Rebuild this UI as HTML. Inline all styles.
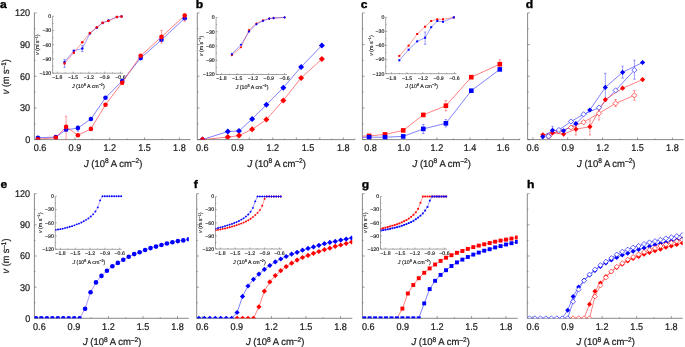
<!DOCTYPE html>
<html><head><meta charset="utf-8"><style>html,body{margin:0;padding:0;background:#fff;overflow:hidden;width:685px;height:347px;}svg{display:block;will-change:transform;}</style></head><body>
<svg width="685" height="347" viewBox="0 0 685 347" font-family="Liberation Sans" fill="#1a1a1a" text-rendering="geometricPrecision">
<rect width="685" height="347" fill="#fff"/>
<line x1="34.4" y1="139.6" x2="190.6" y2="139.6" stroke="#7c7c7c" stroke-width="0.9" />
<line x1="34.4" y1="139.6" x2="34.4" y2="12.9" stroke="#7c7c7c" stroke-width="0.9" />
<line x1="40.08" y1="139.6" x2="40.08" y2="137.3" stroke="#444" stroke-width="0.5" />
<line x1="57.5" y1="139.6" x2="57.5" y2="138.5" stroke="#444" stroke-width="0.5" />
<line x1="74.91" y1="139.6" x2="74.91" y2="137.3" stroke="#444" stroke-width="0.5" />
<line x1="92.33" y1="139.6" x2="92.33" y2="138.5" stroke="#444" stroke-width="0.5" />
<line x1="109.74" y1="139.6" x2="109.74" y2="137.3" stroke="#444" stroke-width="0.5" />
<line x1="127.16" y1="139.6" x2="127.16" y2="138.5" stroke="#444" stroke-width="0.5" />
<line x1="144.57" y1="139.6" x2="144.57" y2="137.3" stroke="#444" stroke-width="0.5" />
<line x1="161.98" y1="139.6" x2="161.98" y2="138.5" stroke="#444" stroke-width="0.5" />
<line x1="179.4" y1="139.6" x2="179.4" y2="137.3" stroke="#444" stroke-width="0.5" />
<line x1="34.4" y1="139.6" x2="36.7" y2="139.6" stroke="#444" stroke-width="0.5" />
<line x1="34.4" y1="123.76" x2="35.5" y2="123.76" stroke="#444" stroke-width="0.5" />
<line x1="34.4" y1="107.92" x2="36.7" y2="107.92" stroke="#444" stroke-width="0.5" />
<line x1="34.4" y1="92.09" x2="35.5" y2="92.09" stroke="#444" stroke-width="0.5" />
<line x1="34.4" y1="76.25" x2="36.7" y2="76.25" stroke="#444" stroke-width="0.5" />
<line x1="34.4" y1="60.41" x2="35.5" y2="60.41" stroke="#444" stroke-width="0.5" />
<line x1="34.4" y1="44.58" x2="36.7" y2="44.58" stroke="#444" stroke-width="0.5" />
<line x1="34.4" y1="28.74" x2="35.5" y2="28.74" stroke="#444" stroke-width="0.5" />
<line x1="34.4" y1="12.9" x2="36.7" y2="12.9" stroke="#444" stroke-width="0.5" />
<text transform="translate(40.08,150.9) scale(0.93,1)" font-size="9.8" text-anchor="middle" stroke="#1a1a1a" stroke-width="0.22">0.6</text>
<text transform="translate(74.91,150.9) scale(0.93,1)" font-size="9.8" text-anchor="middle" stroke="#1a1a1a" stroke-width="0.22">0.9</text>
<text transform="translate(109.74,150.9) scale(0.93,1)" font-size="9.8" text-anchor="middle" stroke="#1a1a1a" stroke-width="0.22">1.2</text>
<text transform="translate(144.57,150.9) scale(0.93,1)" font-size="9.8" text-anchor="middle" stroke="#1a1a1a" stroke-width="0.22">1.5</text>
<text transform="translate(179.4,150.9) scale(0.93,1)" font-size="9.8" text-anchor="middle" stroke="#1a1a1a" stroke-width="0.22">1.8</text>
<text transform="translate(30.2,143) scale(0.93,1)" font-size="9.8" text-anchor="end" stroke="#1a1a1a" stroke-width="0.22">0</text>
<text transform="translate(30.2,111.33) scale(0.93,1)" font-size="9.8" text-anchor="end" stroke="#1a1a1a" stroke-width="0.22">30</text>
<text transform="translate(30.2,79.65) scale(0.93,1)" font-size="9.8" text-anchor="end" stroke="#1a1a1a" stroke-width="0.22">60</text>
<text transform="translate(30.2,47.98) scale(0.93,1)" font-size="9.8" text-anchor="end" stroke="#1a1a1a" stroke-width="0.22">90</text>
<text transform="translate(30.2,16.3) scale(0.93,1)" font-size="9.8" text-anchor="end" stroke="#1a1a1a" stroke-width="0.22">120</text>
<line x1="197.3" y1="139.6" x2="354.8" y2="139.6" stroke="#7c7c7c" stroke-width="0.9" />
<line x1="197.3" y1="139.6" x2="197.3" y2="12.9" stroke="#7c7c7c" stroke-width="0.9" />
<line x1="202.3" y1="139.6" x2="202.3" y2="137.3" stroke="#444" stroke-width="0.5" />
<line x1="214.05" y1="139.6" x2="214.05" y2="138.5" stroke="#444" stroke-width="0.5" />
<line x1="225.8" y1="139.6" x2="225.8" y2="137.3" stroke="#444" stroke-width="0.5" />
<line x1="237.55" y1="139.6" x2="237.55" y2="138.5" stroke="#444" stroke-width="0.5" />
<line x1="249.3" y1="139.6" x2="249.3" y2="137.3" stroke="#444" stroke-width="0.5" />
<line x1="261.05" y1="139.6" x2="261.05" y2="138.5" stroke="#444" stroke-width="0.5" />
<line x1="272.8" y1="139.6" x2="272.8" y2="137.3" stroke="#444" stroke-width="0.5" />
<line x1="284.55" y1="139.6" x2="284.55" y2="138.5" stroke="#444" stroke-width="0.5" />
<line x1="296.3" y1="139.6" x2="296.3" y2="137.3" stroke="#444" stroke-width="0.5" />
<line x1="308.05" y1="139.6" x2="308.05" y2="138.5" stroke="#444" stroke-width="0.5" />
<line x1="319.8" y1="139.6" x2="319.8" y2="137.3" stroke="#444" stroke-width="0.5" />
<line x1="331.55" y1="139.6" x2="331.55" y2="138.5" stroke="#444" stroke-width="0.5" />
<line x1="343.3" y1="139.6" x2="343.3" y2="137.3" stroke="#444" stroke-width="0.5" />
<line x1="355.05" y1="139.6" x2="355.05" y2="138.5" stroke="#444" stroke-width="0.5" />
<line x1="197.3" y1="139.6" x2="199.6" y2="139.6" stroke="#444" stroke-width="0.5" />
<line x1="197.3" y1="123.76" x2="198.4" y2="123.76" stroke="#444" stroke-width="0.5" />
<line x1="197.3" y1="107.92" x2="199.6" y2="107.92" stroke="#444" stroke-width="0.5" />
<line x1="197.3" y1="92.09" x2="198.4" y2="92.09" stroke="#444" stroke-width="0.5" />
<line x1="197.3" y1="76.25" x2="199.6" y2="76.25" stroke="#444" stroke-width="0.5" />
<line x1="197.3" y1="60.41" x2="198.4" y2="60.41" stroke="#444" stroke-width="0.5" />
<line x1="197.3" y1="44.58" x2="199.6" y2="44.58" stroke="#444" stroke-width="0.5" />
<line x1="197.3" y1="28.74" x2="198.4" y2="28.74" stroke="#444" stroke-width="0.5" />
<line x1="197.3" y1="12.9" x2="199.6" y2="12.9" stroke="#444" stroke-width="0.5" />
<text transform="translate(202.3,150.9) scale(0.93,1)" font-size="9.8" text-anchor="middle" stroke="#1a1a1a" stroke-width="0.22">0.6</text>
<text transform="translate(237.55,150.9) scale(0.93,1)" font-size="9.8" text-anchor="middle" stroke="#1a1a1a" stroke-width="0.22">0.9</text>
<text transform="translate(272.8,150.9) scale(0.93,1)" font-size="9.8" text-anchor="middle" stroke="#1a1a1a" stroke-width="0.22">1.2</text>
<text transform="translate(308.05,150.9) scale(0.93,1)" font-size="9.8" text-anchor="middle" stroke="#1a1a1a" stroke-width="0.22">1.5</text>
<text transform="translate(343.3,150.9) scale(0.93,1)" font-size="9.8" text-anchor="middle" stroke="#1a1a1a" stroke-width="0.22">1.8</text>
<line x1="362.4" y1="139.6" x2="519.9" y2="139.6" stroke="#7c7c7c" stroke-width="0.9" />
<line x1="362.4" y1="139.6" x2="362.4" y2="12.9" stroke="#7c7c7c" stroke-width="0.9" />
<line x1="370.56" y1="139.6" x2="370.56" y2="137.3" stroke="#444" stroke-width="0.5" />
<line x1="387.14" y1="139.6" x2="387.14" y2="138.5" stroke="#444" stroke-width="0.5" />
<line x1="403.72" y1="139.6" x2="403.72" y2="137.3" stroke="#444" stroke-width="0.5" />
<line x1="420.3" y1="139.6" x2="420.3" y2="138.5" stroke="#444" stroke-width="0.5" />
<line x1="436.88" y1="139.6" x2="436.88" y2="137.3" stroke="#444" stroke-width="0.5" />
<line x1="453.46" y1="139.6" x2="453.46" y2="138.5" stroke="#444" stroke-width="0.5" />
<line x1="470.04" y1="139.6" x2="470.04" y2="137.3" stroke="#444" stroke-width="0.5" />
<line x1="486.62" y1="139.6" x2="486.62" y2="138.5" stroke="#444" stroke-width="0.5" />
<line x1="503.2" y1="139.6" x2="503.2" y2="137.3" stroke="#444" stroke-width="0.5" />
<line x1="519.78" y1="139.6" x2="519.78" y2="138.5" stroke="#444" stroke-width="0.5" />
<line x1="362.4" y1="139.6" x2="364.7" y2="139.6" stroke="#444" stroke-width="0.5" />
<line x1="362.4" y1="123.76" x2="363.5" y2="123.76" stroke="#444" stroke-width="0.5" />
<line x1="362.4" y1="107.92" x2="364.7" y2="107.92" stroke="#444" stroke-width="0.5" />
<line x1="362.4" y1="92.09" x2="363.5" y2="92.09" stroke="#444" stroke-width="0.5" />
<line x1="362.4" y1="76.25" x2="364.7" y2="76.25" stroke="#444" stroke-width="0.5" />
<line x1="362.4" y1="60.41" x2="363.5" y2="60.41" stroke="#444" stroke-width="0.5" />
<line x1="362.4" y1="44.58" x2="364.7" y2="44.58" stroke="#444" stroke-width="0.5" />
<line x1="362.4" y1="28.74" x2="363.5" y2="28.74" stroke="#444" stroke-width="0.5" />
<line x1="362.4" y1="12.9" x2="364.7" y2="12.9" stroke="#444" stroke-width="0.5" />
<text transform="translate(370.56,150.9) scale(0.93,1)" font-size="9.8" text-anchor="middle" stroke="#1a1a1a" stroke-width="0.22">0.8</text>
<text transform="translate(403.72,150.9) scale(0.93,1)" font-size="9.8" text-anchor="middle" stroke="#1a1a1a" stroke-width="0.22">1.0</text>
<text transform="translate(436.88,150.9) scale(0.93,1)" font-size="9.8" text-anchor="middle" stroke="#1a1a1a" stroke-width="0.22">1.2</text>
<text transform="translate(470.04,150.9) scale(0.93,1)" font-size="9.8" text-anchor="middle" stroke="#1a1a1a" stroke-width="0.22">1.4</text>
<text transform="translate(503.2,150.9) scale(0.93,1)" font-size="9.8" text-anchor="middle" stroke="#1a1a1a" stroke-width="0.22">1.6</text>
<line x1="527.6" y1="139.6" x2="683.8" y2="139.6" stroke="#7c7c7c" stroke-width="0.9" />
<line x1="527.6" y1="139.6" x2="527.6" y2="12.9" stroke="#7c7c7c" stroke-width="0.9" />
<line x1="532.84" y1="139.6" x2="532.84" y2="137.3" stroke="#444" stroke-width="0.5" />
<line x1="550.28" y1="139.6" x2="550.28" y2="138.5" stroke="#444" stroke-width="0.5" />
<line x1="567.73" y1="139.6" x2="567.73" y2="137.3" stroke="#444" stroke-width="0.5" />
<line x1="585.17" y1="139.6" x2="585.17" y2="138.5" stroke="#444" stroke-width="0.5" />
<line x1="602.62" y1="139.6" x2="602.62" y2="137.3" stroke="#444" stroke-width="0.5" />
<line x1="620.07" y1="139.6" x2="620.07" y2="138.5" stroke="#444" stroke-width="0.5" />
<line x1="637.51" y1="139.6" x2="637.51" y2="137.3" stroke="#444" stroke-width="0.5" />
<line x1="654.95" y1="139.6" x2="654.95" y2="138.5" stroke="#444" stroke-width="0.5" />
<line x1="672.4" y1="139.6" x2="672.4" y2="137.3" stroke="#444" stroke-width="0.5" />
<line x1="527.6" y1="139.6" x2="529.9" y2="139.6" stroke="#444" stroke-width="0.5" />
<line x1="527.6" y1="123.76" x2="528.7" y2="123.76" stroke="#444" stroke-width="0.5" />
<line x1="527.6" y1="107.92" x2="529.9" y2="107.92" stroke="#444" stroke-width="0.5" />
<line x1="527.6" y1="92.09" x2="528.7" y2="92.09" stroke="#444" stroke-width="0.5" />
<line x1="527.6" y1="76.25" x2="529.9" y2="76.25" stroke="#444" stroke-width="0.5" />
<line x1="527.6" y1="60.41" x2="528.7" y2="60.41" stroke="#444" stroke-width="0.5" />
<line x1="527.6" y1="44.58" x2="529.9" y2="44.58" stroke="#444" stroke-width="0.5" />
<line x1="527.6" y1="28.74" x2="528.7" y2="28.74" stroke="#444" stroke-width="0.5" />
<line x1="527.6" y1="12.9" x2="529.9" y2="12.9" stroke="#444" stroke-width="0.5" />
<text transform="translate(532.84,150.9) scale(0.93,1)" font-size="9.8" text-anchor="middle" stroke="#1a1a1a" stroke-width="0.22">0.6</text>
<text transform="translate(567.73,150.9) scale(0.93,1)" font-size="9.8" text-anchor="middle" stroke="#1a1a1a" stroke-width="0.22">0.9</text>
<text transform="translate(602.62,150.9) scale(0.93,1)" font-size="9.8" text-anchor="middle" stroke="#1a1a1a" stroke-width="0.22">1.2</text>
<text transform="translate(637.51,150.9) scale(0.93,1)" font-size="9.8" text-anchor="middle" stroke="#1a1a1a" stroke-width="0.22">1.5</text>
<text transform="translate(672.4,150.9) scale(0.93,1)" font-size="9.8" text-anchor="middle" stroke="#1a1a1a" stroke-width="0.22">1.8</text>
<line x1="34.4" y1="318.3" x2="188.8" y2="318.3" stroke="#7c7c7c" stroke-width="0.9" />
<line x1="34.4" y1="318.3" x2="34.4" y2="193.7" stroke="#7c7c7c" stroke-width="0.9" />
<line x1="39.38" y1="318.3" x2="39.38" y2="316" stroke="#444" stroke-width="0.5" />
<line x1="56.65" y1="318.3" x2="56.65" y2="317.2" stroke="#444" stroke-width="0.5" />
<line x1="73.91" y1="318.3" x2="73.91" y2="316" stroke="#444" stroke-width="0.5" />
<line x1="91.18" y1="318.3" x2="91.18" y2="317.2" stroke="#444" stroke-width="0.5" />
<line x1="108.44" y1="318.3" x2="108.44" y2="316" stroke="#444" stroke-width="0.5" />
<line x1="125.71" y1="318.3" x2="125.71" y2="317.2" stroke="#444" stroke-width="0.5" />
<line x1="142.97" y1="318.3" x2="142.97" y2="316" stroke="#444" stroke-width="0.5" />
<line x1="160.23" y1="318.3" x2="160.23" y2="317.2" stroke="#444" stroke-width="0.5" />
<line x1="177.5" y1="318.3" x2="177.5" y2="316" stroke="#444" stroke-width="0.5" />
<line x1="34.4" y1="318.3" x2="36.7" y2="318.3" stroke="#444" stroke-width="0.5" />
<line x1="34.4" y1="302.73" x2="35.5" y2="302.73" stroke="#444" stroke-width="0.5" />
<line x1="34.4" y1="287.15" x2="36.7" y2="287.15" stroke="#444" stroke-width="0.5" />
<line x1="34.4" y1="271.57" x2="35.5" y2="271.57" stroke="#444" stroke-width="0.5" />
<line x1="34.4" y1="256" x2="36.7" y2="256" stroke="#444" stroke-width="0.5" />
<line x1="34.4" y1="240.43" x2="35.5" y2="240.43" stroke="#444" stroke-width="0.5" />
<line x1="34.4" y1="224.85" x2="36.7" y2="224.85" stroke="#444" stroke-width="0.5" />
<line x1="34.4" y1="209.27" x2="35.5" y2="209.27" stroke="#444" stroke-width="0.5" />
<line x1="34.4" y1="193.7" x2="36.7" y2="193.7" stroke="#444" stroke-width="0.5" />
<text transform="translate(39.38,329.6) scale(0.93,1)" font-size="9.8" text-anchor="middle" stroke="#1a1a1a" stroke-width="0.22">0.6</text>
<text transform="translate(73.91,329.6) scale(0.93,1)" font-size="9.8" text-anchor="middle" stroke="#1a1a1a" stroke-width="0.22">0.9</text>
<text transform="translate(108.44,329.6) scale(0.93,1)" font-size="9.8" text-anchor="middle" stroke="#1a1a1a" stroke-width="0.22">1.2</text>
<text transform="translate(142.97,329.6) scale(0.93,1)" font-size="9.8" text-anchor="middle" stroke="#1a1a1a" stroke-width="0.22">1.5</text>
<text transform="translate(177.5,329.6) scale(0.93,1)" font-size="9.8" text-anchor="middle" stroke="#1a1a1a" stroke-width="0.22">1.8</text>
<text transform="translate(30.2,321.7) scale(0.93,1)" font-size="9.8" text-anchor="end" stroke="#1a1a1a" stroke-width="0.22">0</text>
<text transform="translate(30.2,290.55) scale(0.93,1)" font-size="9.8" text-anchor="end" stroke="#1a1a1a" stroke-width="0.22">30</text>
<text transform="translate(30.2,259.4) scale(0.93,1)" font-size="9.8" text-anchor="end" stroke="#1a1a1a" stroke-width="0.22">60</text>
<text transform="translate(30.2,228.25) scale(0.93,1)" font-size="9.8" text-anchor="end" stroke="#1a1a1a" stroke-width="0.22">90</text>
<text transform="translate(30.2,197.1) scale(0.93,1)" font-size="9.8" text-anchor="end" stroke="#1a1a1a" stroke-width="0.22">120</text>
<line x1="196.7" y1="318.3" x2="352.3" y2="318.3" stroke="#7c7c7c" stroke-width="0.9" />
<line x1="196.7" y1="318.3" x2="196.7" y2="193.7" stroke="#7c7c7c" stroke-width="0.9" />
<line x1="202.24" y1="318.3" x2="202.24" y2="316" stroke="#444" stroke-width="0.5" />
<line x1="219.54" y1="318.3" x2="219.54" y2="317.2" stroke="#444" stroke-width="0.5" />
<line x1="236.83" y1="318.3" x2="236.83" y2="316" stroke="#444" stroke-width="0.5" />
<line x1="254.12" y1="318.3" x2="254.12" y2="317.2" stroke="#444" stroke-width="0.5" />
<line x1="271.42" y1="318.3" x2="271.42" y2="316" stroke="#444" stroke-width="0.5" />
<line x1="288.72" y1="318.3" x2="288.72" y2="317.2" stroke="#444" stroke-width="0.5" />
<line x1="306.01" y1="318.3" x2="306.01" y2="316" stroke="#444" stroke-width="0.5" />
<line x1="323.31" y1="318.3" x2="323.31" y2="317.2" stroke="#444" stroke-width="0.5" />
<line x1="340.6" y1="318.3" x2="340.6" y2="316" stroke="#444" stroke-width="0.5" />
<line x1="196.7" y1="318.3" x2="199" y2="318.3" stroke="#444" stroke-width="0.5" />
<line x1="196.7" y1="302.73" x2="197.8" y2="302.73" stroke="#444" stroke-width="0.5" />
<line x1="196.7" y1="287.15" x2="199" y2="287.15" stroke="#444" stroke-width="0.5" />
<line x1="196.7" y1="271.57" x2="197.8" y2="271.57" stroke="#444" stroke-width="0.5" />
<line x1="196.7" y1="256" x2="199" y2="256" stroke="#444" stroke-width="0.5" />
<line x1="196.7" y1="240.43" x2="197.8" y2="240.43" stroke="#444" stroke-width="0.5" />
<line x1="196.7" y1="224.85" x2="199" y2="224.85" stroke="#444" stroke-width="0.5" />
<line x1="196.7" y1="209.27" x2="197.8" y2="209.27" stroke="#444" stroke-width="0.5" />
<line x1="196.7" y1="193.7" x2="199" y2="193.7" stroke="#444" stroke-width="0.5" />
<text transform="translate(202.24,329.6) scale(0.93,1)" font-size="9.8" text-anchor="middle" stroke="#1a1a1a" stroke-width="0.22">0.6</text>
<text transform="translate(236.83,329.6) scale(0.93,1)" font-size="9.8" text-anchor="middle" stroke="#1a1a1a" stroke-width="0.22">0.9</text>
<text transform="translate(271.42,329.6) scale(0.93,1)" font-size="9.8" text-anchor="middle" stroke="#1a1a1a" stroke-width="0.22">1.2</text>
<text transform="translate(306.01,329.6) scale(0.93,1)" font-size="9.8" text-anchor="middle" stroke="#1a1a1a" stroke-width="0.22">1.5</text>
<text transform="translate(340.6,329.6) scale(0.93,1)" font-size="9.8" text-anchor="middle" stroke="#1a1a1a" stroke-width="0.22">1.8</text>
<line x1="362.4" y1="318.3" x2="517.7" y2="318.3" stroke="#7c7c7c" stroke-width="0.9" />
<line x1="362.4" y1="318.3" x2="362.4" y2="193.7" stroke="#7c7c7c" stroke-width="0.9" />
<line x1="368.36" y1="318.3" x2="368.36" y2="316" stroke="#444" stroke-width="0.5" />
<line x1="385.56" y1="318.3" x2="385.56" y2="317.2" stroke="#444" stroke-width="0.5" />
<line x1="402.77" y1="318.3" x2="402.77" y2="316" stroke="#444" stroke-width="0.5" />
<line x1="419.98" y1="318.3" x2="419.98" y2="317.2" stroke="#444" stroke-width="0.5" />
<line x1="437.18" y1="318.3" x2="437.18" y2="316" stroke="#444" stroke-width="0.5" />
<line x1="454.38" y1="318.3" x2="454.38" y2="317.2" stroke="#444" stroke-width="0.5" />
<line x1="471.59" y1="318.3" x2="471.59" y2="316" stroke="#444" stroke-width="0.5" />
<line x1="488.79" y1="318.3" x2="488.79" y2="317.2" stroke="#444" stroke-width="0.5" />
<line x1="506" y1="318.3" x2="506" y2="316" stroke="#444" stroke-width="0.5" />
<line x1="362.4" y1="318.3" x2="364.7" y2="318.3" stroke="#444" stroke-width="0.5" />
<line x1="362.4" y1="302.73" x2="363.5" y2="302.73" stroke="#444" stroke-width="0.5" />
<line x1="362.4" y1="287.15" x2="364.7" y2="287.15" stroke="#444" stroke-width="0.5" />
<line x1="362.4" y1="271.57" x2="363.5" y2="271.57" stroke="#444" stroke-width="0.5" />
<line x1="362.4" y1="256" x2="364.7" y2="256" stroke="#444" stroke-width="0.5" />
<line x1="362.4" y1="240.43" x2="363.5" y2="240.43" stroke="#444" stroke-width="0.5" />
<line x1="362.4" y1="224.85" x2="364.7" y2="224.85" stroke="#444" stroke-width="0.5" />
<line x1="362.4" y1="209.27" x2="363.5" y2="209.27" stroke="#444" stroke-width="0.5" />
<line x1="362.4" y1="193.7" x2="364.7" y2="193.7" stroke="#444" stroke-width="0.5" />
<text transform="translate(368.36,329.6) scale(0.93,1)" font-size="9.8" text-anchor="middle" stroke="#1a1a1a" stroke-width="0.22">0.6</text>
<text transform="translate(402.77,329.6) scale(0.93,1)" font-size="9.8" text-anchor="middle" stroke="#1a1a1a" stroke-width="0.22">0.9</text>
<text transform="translate(437.18,329.6) scale(0.93,1)" font-size="9.8" text-anchor="middle" stroke="#1a1a1a" stroke-width="0.22">1.2</text>
<text transform="translate(471.59,329.6) scale(0.93,1)" font-size="9.8" text-anchor="middle" stroke="#1a1a1a" stroke-width="0.22">1.5</text>
<text transform="translate(506,329.6) scale(0.93,1)" font-size="9.8" text-anchor="middle" stroke="#1a1a1a" stroke-width="0.22">1.8</text>
<line x1="527.3" y1="318.3" x2="682.7" y2="318.3" stroke="#7c7c7c" stroke-width="0.9" />
<line x1="527.3" y1="318.3" x2="527.3" y2="193.7" stroke="#7c7c7c" stroke-width="0.9" />
<line x1="532.94" y1="318.3" x2="532.94" y2="316" stroke="#444" stroke-width="0.5" />
<line x1="550.24" y1="318.3" x2="550.24" y2="317.2" stroke="#444" stroke-width="0.5" />
<line x1="567.53" y1="318.3" x2="567.53" y2="316" stroke="#444" stroke-width="0.5" />
<line x1="584.82" y1="318.3" x2="584.82" y2="317.2" stroke="#444" stroke-width="0.5" />
<line x1="602.12" y1="318.3" x2="602.12" y2="316" stroke="#444" stroke-width="0.5" />
<line x1="619.41" y1="318.3" x2="619.41" y2="317.2" stroke="#444" stroke-width="0.5" />
<line x1="636.71" y1="318.3" x2="636.71" y2="316" stroke="#444" stroke-width="0.5" />
<line x1="654" y1="318.3" x2="654" y2="317.2" stroke="#444" stroke-width="0.5" />
<line x1="671.3" y1="318.3" x2="671.3" y2="316" stroke="#444" stroke-width="0.5" />
<line x1="527.3" y1="318.3" x2="529.6" y2="318.3" stroke="#444" stroke-width="0.5" />
<line x1="527.3" y1="302.73" x2="528.4" y2="302.73" stroke="#444" stroke-width="0.5" />
<line x1="527.3" y1="287.15" x2="529.6" y2="287.15" stroke="#444" stroke-width="0.5" />
<line x1="527.3" y1="271.57" x2="528.4" y2="271.57" stroke="#444" stroke-width="0.5" />
<line x1="527.3" y1="256" x2="529.6" y2="256" stroke="#444" stroke-width="0.5" />
<line x1="527.3" y1="240.43" x2="528.4" y2="240.43" stroke="#444" stroke-width="0.5" />
<line x1="527.3" y1="224.85" x2="529.6" y2="224.85" stroke="#444" stroke-width="0.5" />
<line x1="527.3" y1="209.27" x2="528.4" y2="209.27" stroke="#444" stroke-width="0.5" />
<line x1="527.3" y1="193.7" x2="529.6" y2="193.7" stroke="#444" stroke-width="0.5" />
<text transform="translate(532.94,329.6) scale(0.93,1)" font-size="9.8" text-anchor="middle" stroke="#1a1a1a" stroke-width="0.22">0.6</text>
<text transform="translate(567.53,329.6) scale(0.93,1)" font-size="9.8" text-anchor="middle" stroke="#1a1a1a" stroke-width="0.22">0.9</text>
<text transform="translate(602.12,329.6) scale(0.93,1)" font-size="9.8" text-anchor="middle" stroke="#1a1a1a" stroke-width="0.22">1.2</text>
<text transform="translate(636.71,329.6) scale(0.93,1)" font-size="9.8" text-anchor="middle" stroke="#1a1a1a" stroke-width="0.22">1.5</text>
<text transform="translate(671.3,329.6) scale(0.93,1)" font-size="9.8" text-anchor="middle" stroke="#1a1a1a" stroke-width="0.22">1.8</text>
<text transform="translate(0,7.8) scale(1.1,1)" font-size="11" text-anchor="start" font-weight="bold" fill="#000" stroke="#000" stroke-width="0.35">a</text>
<text transform="translate(195.7,7.8) scale(1.1,1)" font-size="11" text-anchor="start" font-weight="bold" fill="#000" stroke="#000" stroke-width="0.35">b</text>
<text transform="translate(360.7,7.8) scale(1.1,1)" font-size="11" text-anchor="start" font-weight="bold" fill="#000" stroke="#000" stroke-width="0.35">c</text>
<text transform="translate(525.7,7.8) scale(1.1,1)" font-size="11" text-anchor="start" font-weight="bold" fill="#000" stroke="#000" stroke-width="0.35">d</text>
<text transform="translate(0.4,187.9) scale(1.1,1)" font-size="11" text-anchor="start" font-weight="bold" fill="#000" stroke="#000" stroke-width="0.35">e</text>
<text transform="translate(193.8,187.9) scale(1.1,1)" font-size="11" text-anchor="start" font-weight="bold" fill="#000" stroke="#000" stroke-width="0.35">f</text>
<text transform="translate(361.7,187.9) scale(1.1,1)" font-size="11" text-anchor="start" font-weight="bold" fill="#000" stroke="#000" stroke-width="0.35">g</text>
<text transform="translate(527,187.9) scale(1.1,1)" font-size="11" text-anchor="start" font-weight="bold" fill="#000" stroke="#000" stroke-width="0.35">h</text>
<text transform="translate(113.1,166.5) scale(0.965,1)" font-size="9.8" text-anchor="middle" stroke="#1a1a1a" stroke-width="0.22"><tspan font-style="italic">J</tspan> (10<tspan font-size="6.86" dy="-3.3">8</tspan><tspan dy="3.3"> A cm</tspan><tspan font-size="6.86" dy="-3.3">–2</tspan><tspan dy="3.3">)</tspan></text>
<text transform="translate(276.65,166.5) scale(0.965,1)" font-size="9.8" text-anchor="middle" stroke="#1a1a1a" stroke-width="0.22"><tspan font-style="italic">J</tspan> (10<tspan font-size="6.86" dy="-3.3">8</tspan><tspan dy="3.3"> A cm</tspan><tspan font-size="6.86" dy="-3.3">–2</tspan><tspan dy="3.3">)</tspan></text>
<text transform="translate(441.75,166.5) scale(0.965,1)" font-size="9.8" text-anchor="middle" stroke="#1a1a1a" stroke-width="0.22"><tspan font-style="italic">J</tspan> (10<tspan font-size="6.86" dy="-3.3">8</tspan><tspan dy="3.3"> A cm</tspan><tspan font-size="6.86" dy="-3.3">–2</tspan><tspan dy="3.3">)</tspan></text>
<text transform="translate(606.3,166.5) scale(0.965,1)" font-size="9.8" text-anchor="middle" stroke="#1a1a1a" stroke-width="0.22"><tspan font-style="italic">J</tspan> (10<tspan font-size="6.86" dy="-3.3">8</tspan><tspan dy="3.3"> A cm</tspan><tspan font-size="6.86" dy="-3.3">–2</tspan><tspan dy="3.3">)</tspan></text>
<text transform="translate(112.2,345.3) scale(0.965,1)" font-size="9.8" text-anchor="middle" stroke="#1a1a1a" stroke-width="0.22"><tspan font-style="italic">J</tspan> (10<tspan font-size="6.86" dy="-3.3">8</tspan><tspan dy="3.3"> A cm</tspan><tspan font-size="6.86" dy="-3.3">–2</tspan><tspan dy="3.3">)</tspan></text>
<text transform="translate(275.1,345.3) scale(0.965,1)" font-size="9.8" text-anchor="middle" stroke="#1a1a1a" stroke-width="0.22"><tspan font-style="italic">J</tspan> (10<tspan font-size="6.86" dy="-3.3">8</tspan><tspan dy="3.3"> A cm</tspan><tspan font-size="6.86" dy="-3.3">–2</tspan><tspan dy="3.3">)</tspan></text>
<text transform="translate(440.65,345.3) scale(0.965,1)" font-size="9.8" text-anchor="middle" stroke="#1a1a1a" stroke-width="0.22"><tspan font-style="italic">J</tspan> (10<tspan font-size="6.86" dy="-3.3">8</tspan><tspan dy="3.3"> A cm</tspan><tspan font-size="6.86" dy="-3.3">–2</tspan><tspan dy="3.3">)</tspan></text>
<text transform="translate(605.6,345.3) scale(0.965,1)" font-size="9.8" text-anchor="middle" stroke="#1a1a1a" stroke-width="0.22"><tspan font-style="italic">J</tspan> (10<tspan font-size="6.86" dy="-3.3">8</tspan><tspan dy="3.3"> A cm</tspan><tspan font-size="6.86" dy="-3.3">–2</tspan><tspan dy="3.3">)</tspan></text>
<text transform="translate(8.8,76.7) rotate(-90) scale(0.93,1)" font-size="9.8" text-anchor="middle" stroke="#1a1a1a" stroke-width="0.22"><tspan font-style="italic">v</tspan> (m s<tspan font-size="6.86" dy="-3.3">–1</tspan><tspan dy="3.3">)</tspan></text>
<text transform="translate(8.8,256) rotate(-90) scale(0.93,1)" font-size="9.8" text-anchor="middle" stroke="#1a1a1a" stroke-width="0.22"><tspan font-style="italic">v</tspan> (m s<tspan font-size="6.86" dy="-3.3">–1</tspan><tspan dy="3.3">)</tspan></text>
<line x1="52.6" y1="73.2" x2="123" y2="73.2" stroke="#7c7c7c" stroke-width="0.7" />
<line x1="52.6" y1="73.2" x2="52.6" y2="16.2" stroke="#7c7c7c" stroke-width="0.7" />
<line x1="57.3" y1="73.2" x2="57.3" y2="71.6" stroke="#444" stroke-width="0.4" />
<line x1="65.19" y1="73.2" x2="65.19" y2="72.3" stroke="#444" stroke-width="0.4" />
<line x1="73.08" y1="73.2" x2="73.08" y2="71.6" stroke="#444" stroke-width="0.4" />
<line x1="80.96" y1="73.2" x2="80.96" y2="72.3" stroke="#444" stroke-width="0.4" />
<line x1="88.85" y1="73.2" x2="88.85" y2="71.6" stroke="#444" stroke-width="0.4" />
<line x1="96.74" y1="73.2" x2="96.74" y2="72.3" stroke="#444" stroke-width="0.4" />
<line x1="104.62" y1="73.2" x2="104.62" y2="71.6" stroke="#444" stroke-width="0.4" />
<line x1="112.51" y1="73.2" x2="112.51" y2="72.3" stroke="#444" stroke-width="0.4" />
<line x1="120.4" y1="73.2" x2="120.4" y2="71.6" stroke="#444" stroke-width="0.4" />
<line x1="52.6" y1="16.2" x2="54.2" y2="16.2" stroke="#444" stroke-width="0.4" />
<line x1="52.6" y1="23.32" x2="53.5" y2="23.32" stroke="#444" stroke-width="0.4" />
<line x1="52.6" y1="30.45" x2="54.2" y2="30.45" stroke="#444" stroke-width="0.4" />
<line x1="52.6" y1="37.58" x2="53.5" y2="37.58" stroke="#444" stroke-width="0.4" />
<line x1="52.6" y1="44.7" x2="54.2" y2="44.7" stroke="#444" stroke-width="0.4" />
<line x1="52.6" y1="51.83" x2="53.5" y2="51.83" stroke="#444" stroke-width="0.4" />
<line x1="52.6" y1="58.95" x2="54.2" y2="58.95" stroke="#444" stroke-width="0.4" />
<line x1="52.6" y1="66.08" x2="53.5" y2="66.08" stroke="#444" stroke-width="0.4" />
<line x1="52.6" y1="73.2" x2="54.2" y2="73.2" stroke="#444" stroke-width="0.4" />
<text transform="translate(57.3,79.1) scale(1,1)" font-size="5.2" text-anchor="middle" stroke="#1a1a1a" stroke-width="0.15">−1.8</text>
<text transform="translate(73.08,79.1) scale(1,1)" font-size="5.2" text-anchor="middle" stroke="#1a1a1a" stroke-width="0.15">−1.5</text>
<text transform="translate(88.85,79.1) scale(1,1)" font-size="5.2" text-anchor="middle" stroke="#1a1a1a" stroke-width="0.15">−1.2</text>
<text transform="translate(104.62,79.1) scale(1,1)" font-size="5.2" text-anchor="middle" stroke="#1a1a1a" stroke-width="0.15">−0.9</text>
<text transform="translate(120.4,79.1) scale(1,1)" font-size="5.2" text-anchor="middle" stroke="#1a1a1a" stroke-width="0.15">−0.6</text>
<text transform="translate(51.2,18) scale(1,1)" font-size="5.2" text-anchor="end" stroke="#1a1a1a" stroke-width="0.15">0</text>
<text transform="translate(51.2,32.25) scale(1,1)" font-size="5.2" text-anchor="end" stroke="#1a1a1a" stroke-width="0.15">−30</text>
<text transform="translate(51.2,46.5) scale(1,1)" font-size="5.2" text-anchor="end" stroke="#1a1a1a" stroke-width="0.15">−60</text>
<text transform="translate(51.2,60.75) scale(1,1)" font-size="5.2" text-anchor="end" stroke="#1a1a1a" stroke-width="0.15">−90</text>
<text transform="translate(51.2,75) scale(1,1)" font-size="5.2" text-anchor="end" stroke="#1a1a1a" stroke-width="0.15">−120</text>
<text transform="translate(88.3,87.7)" font-size="5.3" text-anchor="middle" stroke="#1a1a1a" stroke-width="0.15"><tspan font-style="italic">J</tspan> (10<tspan font-size="3.71" dy="-1.8">8</tspan><tspan dy="1.8"> A cm</tspan><tspan font-size="3.71" dy="-1.8">−2</tspan><tspan dy="1.8">)</tspan></text>
<text transform="translate(39.4,44.7) rotate(-90)" font-size="5.3" text-anchor="middle" stroke="#1a1a1a" stroke-width="0.15"><tspan font-style="italic">v</tspan> (m s<tspan font-size="3.71" dy="-1.8">−1</tspan><tspan dy="1.8">)</tspan></text>
<line x1="216.1" y1="74.5" x2="287" y2="74.5" stroke="#7c7c7c" stroke-width="0.7" />
<line x1="216.1" y1="74.5" x2="216.1" y2="17.5" stroke="#7c7c7c" stroke-width="0.7" />
<line x1="221.4" y1="74.5" x2="221.4" y2="72.9" stroke="#444" stroke-width="0.4" />
<line x1="229.29" y1="74.5" x2="229.29" y2="73.6" stroke="#444" stroke-width="0.4" />
<line x1="237.18" y1="74.5" x2="237.18" y2="72.9" stroke="#444" stroke-width="0.4" />
<line x1="245.06" y1="74.5" x2="245.06" y2="73.6" stroke="#444" stroke-width="0.4" />
<line x1="252.95" y1="74.5" x2="252.95" y2="72.9" stroke="#444" stroke-width="0.4" />
<line x1="260.84" y1="74.5" x2="260.84" y2="73.6" stroke="#444" stroke-width="0.4" />
<line x1="268.73" y1="74.5" x2="268.73" y2="72.9" stroke="#444" stroke-width="0.4" />
<line x1="276.61" y1="74.5" x2="276.61" y2="73.6" stroke="#444" stroke-width="0.4" />
<line x1="284.5" y1="74.5" x2="284.5" y2="72.9" stroke="#444" stroke-width="0.4" />
<line x1="216.1" y1="17.5" x2="217.7" y2="17.5" stroke="#444" stroke-width="0.4" />
<line x1="216.1" y1="24.62" x2="217" y2="24.62" stroke="#444" stroke-width="0.4" />
<line x1="216.1" y1="31.75" x2="217.7" y2="31.75" stroke="#444" stroke-width="0.4" />
<line x1="216.1" y1="38.88" x2="217" y2="38.88" stroke="#444" stroke-width="0.4" />
<line x1="216.1" y1="46" x2="217.7" y2="46" stroke="#444" stroke-width="0.4" />
<line x1="216.1" y1="53.12" x2="217" y2="53.12" stroke="#444" stroke-width="0.4" />
<line x1="216.1" y1="60.25" x2="217.7" y2="60.25" stroke="#444" stroke-width="0.4" />
<line x1="216.1" y1="67.38" x2="217" y2="67.38" stroke="#444" stroke-width="0.4" />
<line x1="216.1" y1="74.5" x2="217.7" y2="74.5" stroke="#444" stroke-width="0.4" />
<text transform="translate(221.4,80.4) scale(1,1)" font-size="5.2" text-anchor="middle" stroke="#1a1a1a" stroke-width="0.15">−1.8</text>
<text transform="translate(237.18,80.4) scale(1,1)" font-size="5.2" text-anchor="middle" stroke="#1a1a1a" stroke-width="0.15">−1.5</text>
<text transform="translate(252.95,80.4) scale(1,1)" font-size="5.2" text-anchor="middle" stroke="#1a1a1a" stroke-width="0.15">−1.2</text>
<text transform="translate(268.73,80.4) scale(1,1)" font-size="5.2" text-anchor="middle" stroke="#1a1a1a" stroke-width="0.15">−0.9</text>
<text transform="translate(284.5,80.4) scale(1,1)" font-size="5.2" text-anchor="middle" stroke="#1a1a1a" stroke-width="0.15">−0.6</text>
<text transform="translate(214.7,19.3) scale(1,1)" font-size="5.2" text-anchor="end" stroke="#1a1a1a" stroke-width="0.15">0</text>
<text transform="translate(214.7,33.55) scale(1,1)" font-size="5.2" text-anchor="end" stroke="#1a1a1a" stroke-width="0.15">−30</text>
<text transform="translate(214.7,47.8) scale(1,1)" font-size="5.2" text-anchor="end" stroke="#1a1a1a" stroke-width="0.15">−60</text>
<text transform="translate(214.7,62.05) scale(1,1)" font-size="5.2" text-anchor="end" stroke="#1a1a1a" stroke-width="0.15">−90</text>
<text transform="translate(214.7,76.3) scale(1,1)" font-size="5.2" text-anchor="end" stroke="#1a1a1a" stroke-width="0.15">−120</text>
<text transform="translate(252.05,89)" font-size="5.3" text-anchor="middle" stroke="#1a1a1a" stroke-width="0.15"><tspan font-style="italic">J</tspan> (10<tspan font-size="3.71" dy="-1.8">8</tspan><tspan dy="1.8"> A cm</tspan><tspan font-size="3.71" dy="-1.8">−2</tspan><tspan dy="1.8">)</tspan></text>
<text transform="translate(202.9,46) rotate(-90)" font-size="5.3" text-anchor="middle" stroke="#1a1a1a" stroke-width="0.15"><tspan font-style="italic">v</tspan> (m s<tspan font-size="3.71" dy="-1.8">−1</tspan><tspan dy="1.8">)</tspan></text>
<line x1="385.7" y1="73.7" x2="456.5" y2="73.7" stroke="#7c7c7c" stroke-width="0.7" />
<line x1="385.7" y1="73.7" x2="385.7" y2="17.4" stroke="#7c7c7c" stroke-width="0.7" />
<line x1="391.3" y1="73.7" x2="391.3" y2="72.1" stroke="#444" stroke-width="0.4" />
<line x1="399.19" y1="73.7" x2="399.19" y2="72.8" stroke="#444" stroke-width="0.4" />
<line x1="407.07" y1="73.7" x2="407.07" y2="72.1" stroke="#444" stroke-width="0.4" />
<line x1="414.96" y1="73.7" x2="414.96" y2="72.8" stroke="#444" stroke-width="0.4" />
<line x1="422.85" y1="73.7" x2="422.85" y2="72.1" stroke="#444" stroke-width="0.4" />
<line x1="430.74" y1="73.7" x2="430.74" y2="72.8" stroke="#444" stroke-width="0.4" />
<line x1="438.62" y1="73.7" x2="438.62" y2="72.1" stroke="#444" stroke-width="0.4" />
<line x1="446.51" y1="73.7" x2="446.51" y2="72.8" stroke="#444" stroke-width="0.4" />
<line x1="454.4" y1="73.7" x2="454.4" y2="72.1" stroke="#444" stroke-width="0.4" />
<line x1="385.7" y1="17.4" x2="387.3" y2="17.4" stroke="#444" stroke-width="0.4" />
<line x1="385.7" y1="24.44" x2="386.6" y2="24.44" stroke="#444" stroke-width="0.4" />
<line x1="385.7" y1="31.48" x2="387.3" y2="31.48" stroke="#444" stroke-width="0.4" />
<line x1="385.7" y1="38.51" x2="386.6" y2="38.51" stroke="#444" stroke-width="0.4" />
<line x1="385.7" y1="45.55" x2="387.3" y2="45.55" stroke="#444" stroke-width="0.4" />
<line x1="385.7" y1="52.59" x2="386.6" y2="52.59" stroke="#444" stroke-width="0.4" />
<line x1="385.7" y1="59.62" x2="387.3" y2="59.62" stroke="#444" stroke-width="0.4" />
<line x1="385.7" y1="66.66" x2="386.6" y2="66.66" stroke="#444" stroke-width="0.4" />
<line x1="385.7" y1="73.7" x2="387.3" y2="73.7" stroke="#444" stroke-width="0.4" />
<text transform="translate(391.3,79.6) scale(1,1)" font-size="5.2" text-anchor="middle" stroke="#1a1a1a" stroke-width="0.15">−1.8</text>
<text transform="translate(407.07,79.6) scale(1,1)" font-size="5.2" text-anchor="middle" stroke="#1a1a1a" stroke-width="0.15">−1.5</text>
<text transform="translate(422.85,79.6) scale(1,1)" font-size="5.2" text-anchor="middle" stroke="#1a1a1a" stroke-width="0.15">−1.2</text>
<text transform="translate(438.62,79.6) scale(1,1)" font-size="5.2" text-anchor="middle" stroke="#1a1a1a" stroke-width="0.15">−0.9</text>
<text transform="translate(454.4,79.6) scale(1,1)" font-size="5.2" text-anchor="middle" stroke="#1a1a1a" stroke-width="0.15">−0.6</text>
<text transform="translate(384.3,19.2) scale(1,1)" font-size="5.2" text-anchor="end" stroke="#1a1a1a" stroke-width="0.15">0</text>
<text transform="translate(384.3,33.27) scale(1,1)" font-size="5.2" text-anchor="end" stroke="#1a1a1a" stroke-width="0.15">−30</text>
<text transform="translate(384.3,47.35) scale(1,1)" font-size="5.2" text-anchor="end" stroke="#1a1a1a" stroke-width="0.15">−60</text>
<text transform="translate(384.3,61.42) scale(1,1)" font-size="5.2" text-anchor="end" stroke="#1a1a1a" stroke-width="0.15">−90</text>
<text transform="translate(384.3,75.5) scale(1,1)" font-size="5.2" text-anchor="end" stroke="#1a1a1a" stroke-width="0.15">−120</text>
<text transform="translate(421.6,88.2)" font-size="5.3" text-anchor="middle" stroke="#1a1a1a" stroke-width="0.15"><tspan font-style="italic">J</tspan> (10<tspan font-size="3.71" dy="-1.8">8</tspan><tspan dy="1.8"> A cm</tspan><tspan font-size="3.71" dy="-1.8">−2</tspan><tspan dy="1.8">)</tspan></text>
<text transform="translate(372.5,45.55) rotate(-90)" font-size="5.3" text-anchor="middle" stroke="#1a1a1a" stroke-width="0.15"><tspan font-style="italic">v</tspan> (m s<tspan font-size="3.71" dy="-1.8">−1</tspan><tspan dy="1.8">)</tspan></text>
<line x1="55.3" y1="249.3" x2="121.5" y2="249.3" stroke="#7c7c7c" stroke-width="0.7" />
<line x1="55.3" y1="249.3" x2="55.3" y2="196.3" stroke="#7c7c7c" stroke-width="0.7" />
<line x1="60.5" y1="249.3" x2="60.5" y2="247.7" stroke="#444" stroke-width="0.4" />
<line x1="67.9" y1="249.3" x2="67.9" y2="248.4" stroke="#444" stroke-width="0.4" />
<line x1="75.3" y1="249.3" x2="75.3" y2="247.7" stroke="#444" stroke-width="0.4" />
<line x1="82.7" y1="249.3" x2="82.7" y2="248.4" stroke="#444" stroke-width="0.4" />
<line x1="90.1" y1="249.3" x2="90.1" y2="247.7" stroke="#444" stroke-width="0.4" />
<line x1="97.5" y1="249.3" x2="97.5" y2="248.4" stroke="#444" stroke-width="0.4" />
<line x1="104.9" y1="249.3" x2="104.9" y2="247.7" stroke="#444" stroke-width="0.4" />
<line x1="112.3" y1="249.3" x2="112.3" y2="248.4" stroke="#444" stroke-width="0.4" />
<line x1="119.7" y1="249.3" x2="119.7" y2="247.7" stroke="#444" stroke-width="0.4" />
<line x1="55.3" y1="196.3" x2="56.9" y2="196.3" stroke="#444" stroke-width="0.4" />
<line x1="55.3" y1="202.93" x2="56.2" y2="202.93" stroke="#444" stroke-width="0.4" />
<line x1="55.3" y1="209.55" x2="56.9" y2="209.55" stroke="#444" stroke-width="0.4" />
<line x1="55.3" y1="216.18" x2="56.2" y2="216.18" stroke="#444" stroke-width="0.4" />
<line x1="55.3" y1="222.8" x2="56.9" y2="222.8" stroke="#444" stroke-width="0.4" />
<line x1="55.3" y1="229.43" x2="56.2" y2="229.43" stroke="#444" stroke-width="0.4" />
<line x1="55.3" y1="236.05" x2="56.9" y2="236.05" stroke="#444" stroke-width="0.4" />
<line x1="55.3" y1="242.68" x2="56.2" y2="242.68" stroke="#444" stroke-width="0.4" />
<line x1="55.3" y1="249.3" x2="56.9" y2="249.3" stroke="#444" stroke-width="0.4" />
<text transform="translate(60.5,255.2) scale(1,1)" font-size="5.2" text-anchor="middle" stroke="#1a1a1a" stroke-width="0.15">−1.8</text>
<text transform="translate(75.3,255.2) scale(1,1)" font-size="5.2" text-anchor="middle" stroke="#1a1a1a" stroke-width="0.15">−1.5</text>
<text transform="translate(90.1,255.2) scale(1,1)" font-size="5.2" text-anchor="middle" stroke="#1a1a1a" stroke-width="0.15">−1.2</text>
<text transform="translate(104.9,255.2) scale(1,1)" font-size="5.2" text-anchor="middle" stroke="#1a1a1a" stroke-width="0.15">−0.9</text>
<text transform="translate(119.7,255.2) scale(1,1)" font-size="5.2" text-anchor="middle" stroke="#1a1a1a" stroke-width="0.15">−0.6</text>
<text transform="translate(53.9,198.1) scale(1,1)" font-size="5.2" text-anchor="end" stroke="#1a1a1a" stroke-width="0.15">0</text>
<text transform="translate(53.9,211.35) scale(1,1)" font-size="5.2" text-anchor="end" stroke="#1a1a1a" stroke-width="0.15">−30</text>
<text transform="translate(53.9,224.6) scale(1,1)" font-size="5.2" text-anchor="end" stroke="#1a1a1a" stroke-width="0.15">−60</text>
<text transform="translate(53.9,237.85) scale(1,1)" font-size="5.2" text-anchor="end" stroke="#1a1a1a" stroke-width="0.15">−90</text>
<text transform="translate(53.9,251.1) scale(1,1)" font-size="5.2" text-anchor="end" stroke="#1a1a1a" stroke-width="0.15">−120</text>
<text transform="translate(88.9,263.8)" font-size="5.3" text-anchor="middle" stroke="#1a1a1a" stroke-width="0.15"><tspan font-style="italic">J</tspan> (10<tspan font-size="3.71" dy="-1.8">8</tspan><tspan dy="1.8"> A cm</tspan><tspan font-size="3.71" dy="-1.8">−2</tspan><tspan dy="1.8">)</tspan></text>
<text transform="translate(42.1,222.8) rotate(-90)" font-size="5.3" text-anchor="middle" stroke="#1a1a1a" stroke-width="0.15"><tspan font-style="italic">v</tspan> (m s<tspan font-size="3.71" dy="-1.8">−1</tspan><tspan dy="1.8">)</tspan></text>
<line x1="215.5" y1="249" x2="282.1" y2="249" stroke="#7c7c7c" stroke-width="0.7" />
<line x1="215.5" y1="249" x2="215.5" y2="196.5" stroke="#7c7c7c" stroke-width="0.7" />
<line x1="220.4" y1="249" x2="220.4" y2="247.4" stroke="#444" stroke-width="0.4" />
<line x1="227.78" y1="249" x2="227.78" y2="248.1" stroke="#444" stroke-width="0.4" />
<line x1="235.15" y1="249" x2="235.15" y2="247.4" stroke="#444" stroke-width="0.4" />
<line x1="242.53" y1="249" x2="242.53" y2="248.1" stroke="#444" stroke-width="0.4" />
<line x1="249.9" y1="249" x2="249.9" y2="247.4" stroke="#444" stroke-width="0.4" />
<line x1="257.27" y1="249" x2="257.27" y2="248.1" stroke="#444" stroke-width="0.4" />
<line x1="264.65" y1="249" x2="264.65" y2="247.4" stroke="#444" stroke-width="0.4" />
<line x1="272.02" y1="249" x2="272.02" y2="248.1" stroke="#444" stroke-width="0.4" />
<line x1="279.4" y1="249" x2="279.4" y2="247.4" stroke="#444" stroke-width="0.4" />
<line x1="215.5" y1="196.5" x2="217.1" y2="196.5" stroke="#444" stroke-width="0.4" />
<line x1="215.5" y1="203.06" x2="216.4" y2="203.06" stroke="#444" stroke-width="0.4" />
<line x1="215.5" y1="209.62" x2="217.1" y2="209.62" stroke="#444" stroke-width="0.4" />
<line x1="215.5" y1="216.19" x2="216.4" y2="216.19" stroke="#444" stroke-width="0.4" />
<line x1="215.5" y1="222.75" x2="217.1" y2="222.75" stroke="#444" stroke-width="0.4" />
<line x1="215.5" y1="229.31" x2="216.4" y2="229.31" stroke="#444" stroke-width="0.4" />
<line x1="215.5" y1="235.88" x2="217.1" y2="235.88" stroke="#444" stroke-width="0.4" />
<line x1="215.5" y1="242.44" x2="216.4" y2="242.44" stroke="#444" stroke-width="0.4" />
<line x1="215.5" y1="249" x2="217.1" y2="249" stroke="#444" stroke-width="0.4" />
<text transform="translate(220.4,254.9) scale(1,1)" font-size="5.2" text-anchor="middle" stroke="#1a1a1a" stroke-width="0.15">−1.8</text>
<text transform="translate(235.15,254.9) scale(1,1)" font-size="5.2" text-anchor="middle" stroke="#1a1a1a" stroke-width="0.15">−1.5</text>
<text transform="translate(249.9,254.9) scale(1,1)" font-size="5.2" text-anchor="middle" stroke="#1a1a1a" stroke-width="0.15">−1.2</text>
<text transform="translate(264.65,254.9) scale(1,1)" font-size="5.2" text-anchor="middle" stroke="#1a1a1a" stroke-width="0.15">−0.9</text>
<text transform="translate(279.4,254.9) scale(1,1)" font-size="5.2" text-anchor="middle" stroke="#1a1a1a" stroke-width="0.15">−0.6</text>
<text transform="translate(214.1,198.3) scale(1,1)" font-size="5.2" text-anchor="end" stroke="#1a1a1a" stroke-width="0.15">0</text>
<text transform="translate(214.1,211.43) scale(1,1)" font-size="5.2" text-anchor="end" stroke="#1a1a1a" stroke-width="0.15">−30</text>
<text transform="translate(214.1,224.55) scale(1,1)" font-size="5.2" text-anchor="end" stroke="#1a1a1a" stroke-width="0.15">−60</text>
<text transform="translate(214.1,237.68) scale(1,1)" font-size="5.2" text-anchor="end" stroke="#1a1a1a" stroke-width="0.15">−90</text>
<text transform="translate(214.1,250.8) scale(1,1)" font-size="5.2" text-anchor="end" stroke="#1a1a1a" stroke-width="0.15">−120</text>
<text transform="translate(249.3,263.5)" font-size="5.3" text-anchor="middle" stroke="#1a1a1a" stroke-width="0.15"><tspan font-style="italic">J</tspan> (10<tspan font-size="3.71" dy="-1.8">8</tspan><tspan dy="1.8"> A cm</tspan><tspan font-size="3.71" dy="-1.8">−2</tspan><tspan dy="1.8">)</tspan></text>
<text transform="translate(202.3,222.75) rotate(-90)" font-size="5.3" text-anchor="middle" stroke="#1a1a1a" stroke-width="0.15"><tspan font-style="italic">v</tspan> (m s<tspan font-size="3.71" dy="-1.8">−1</tspan><tspan dy="1.8">)</tspan></text>
<line x1="380.5" y1="249.1" x2="447" y2="249.1" stroke="#7c7c7c" stroke-width="0.7" />
<line x1="380.5" y1="249.1" x2="380.5" y2="196.5" stroke="#7c7c7c" stroke-width="0.7" />
<line x1="385.4" y1="249.1" x2="385.4" y2="247.5" stroke="#444" stroke-width="0.4" />
<line x1="392.77" y1="249.1" x2="392.77" y2="248.2" stroke="#444" stroke-width="0.4" />
<line x1="400.15" y1="249.1" x2="400.15" y2="247.5" stroke="#444" stroke-width="0.4" />
<line x1="407.52" y1="249.1" x2="407.52" y2="248.2" stroke="#444" stroke-width="0.4" />
<line x1="414.9" y1="249.1" x2="414.9" y2="247.5" stroke="#444" stroke-width="0.4" />
<line x1="422.27" y1="249.1" x2="422.27" y2="248.2" stroke="#444" stroke-width="0.4" />
<line x1="429.65" y1="249.1" x2="429.65" y2="247.5" stroke="#444" stroke-width="0.4" />
<line x1="437.02" y1="249.1" x2="437.02" y2="248.2" stroke="#444" stroke-width="0.4" />
<line x1="444.4" y1="249.1" x2="444.4" y2="247.5" stroke="#444" stroke-width="0.4" />
<line x1="380.5" y1="196.5" x2="382.1" y2="196.5" stroke="#444" stroke-width="0.4" />
<line x1="380.5" y1="203.07" x2="381.4" y2="203.07" stroke="#444" stroke-width="0.4" />
<line x1="380.5" y1="209.65" x2="382.1" y2="209.65" stroke="#444" stroke-width="0.4" />
<line x1="380.5" y1="216.22" x2="381.4" y2="216.22" stroke="#444" stroke-width="0.4" />
<line x1="380.5" y1="222.8" x2="382.1" y2="222.8" stroke="#444" stroke-width="0.4" />
<line x1="380.5" y1="229.38" x2="381.4" y2="229.38" stroke="#444" stroke-width="0.4" />
<line x1="380.5" y1="235.95" x2="382.1" y2="235.95" stroke="#444" stroke-width="0.4" />
<line x1="380.5" y1="242.52" x2="381.4" y2="242.52" stroke="#444" stroke-width="0.4" />
<line x1="380.5" y1="249.1" x2="382.1" y2="249.1" stroke="#444" stroke-width="0.4" />
<text transform="translate(385.4,255) scale(1,1)" font-size="5.2" text-anchor="middle" stroke="#1a1a1a" stroke-width="0.15">−1.8</text>
<text transform="translate(400.15,255) scale(1,1)" font-size="5.2" text-anchor="middle" stroke="#1a1a1a" stroke-width="0.15">−1.5</text>
<text transform="translate(414.9,255) scale(1,1)" font-size="5.2" text-anchor="middle" stroke="#1a1a1a" stroke-width="0.15">−1.2</text>
<text transform="translate(429.65,255) scale(1,1)" font-size="5.2" text-anchor="middle" stroke="#1a1a1a" stroke-width="0.15">−0.9</text>
<text transform="translate(444.4,255) scale(1,1)" font-size="5.2" text-anchor="middle" stroke="#1a1a1a" stroke-width="0.15">−0.6</text>
<text transform="translate(379.1,198.3) scale(1,1)" font-size="5.2" text-anchor="end" stroke="#1a1a1a" stroke-width="0.15">0</text>
<text transform="translate(379.1,211.45) scale(1,1)" font-size="5.2" text-anchor="end" stroke="#1a1a1a" stroke-width="0.15">−30</text>
<text transform="translate(379.1,224.6) scale(1,1)" font-size="5.2" text-anchor="end" stroke="#1a1a1a" stroke-width="0.15">−60</text>
<text transform="translate(379.1,237.75) scale(1,1)" font-size="5.2" text-anchor="end" stroke="#1a1a1a" stroke-width="0.15">−90</text>
<text transform="translate(379.1,250.9) scale(1,1)" font-size="5.2" text-anchor="end" stroke="#1a1a1a" stroke-width="0.15">−120</text>
<text transform="translate(414.25,263.6)" font-size="5.3" text-anchor="middle" stroke="#1a1a1a" stroke-width="0.15"><tspan font-style="italic">J</tspan> (10<tspan font-size="3.71" dy="-1.8">8</tspan><tspan dy="1.8"> A cm</tspan><tspan font-size="3.71" dy="-1.8">−2</tspan><tspan dy="1.8">)</tspan></text>
<text transform="translate(367.3,222.8) rotate(-90)" font-size="5.3" text-anchor="middle" stroke="#1a1a1a" stroke-width="0.15"><tspan font-style="italic">v</tspan> (m s<tspan font-size="3.71" dy="-1.8">−1</tspan><tspan dy="1.8">)</tspan></text>
<clipPath id="c1"><rect x="52.6" y="13.2" width="72.4" height="60"/></clipPath><g clip-path="url(#c1)">
<polyline points="64.5,62 73.8,50.8 82.3,48.5 89.9,33.4 96.8,27.8 102.6,22.9 108.4,20.6 116.9,17 121.5,16.5" fill="none" stroke="#3b3bff" stroke-width="0.5"/>
<line x1="64.5" y1="59.4" x2="64.5" y2="67.4" stroke="#3b3bff" stroke-width="0.5" />
<line x1="63.3" y1="59.4" x2="65.7" y2="59.4" stroke="#3b3bff" stroke-width="0.5" />
<line x1="63.3" y1="67.4" x2="65.7" y2="67.4" stroke="#3b3bff" stroke-width="0.5" />
<line x1="82.3" y1="45.6" x2="82.3" y2="51.6" stroke="#3b3bff" stroke-width="0.5" />
<line x1="81.1" y1="45.6" x2="83.5" y2="45.6" stroke="#3b3bff" stroke-width="0.5" />
<line x1="81.1" y1="51.6" x2="83.5" y2="51.6" stroke="#3b3bff" stroke-width="0.5" />
<circle cx="64.5" cy="62" r="1.25" fill="#0000ff"/>
<circle cx="73.8" cy="50.8" r="1.25" fill="#0000ff"/>
<circle cx="82.3" cy="48.5" r="1.25" fill="#0000ff"/>
<circle cx="89.9" cy="33.4" r="1.25" fill="#0000ff"/>
<circle cx="96.8" cy="27.8" r="1.25" fill="#0000ff"/>
<circle cx="102.6" cy="22.9" r="1.25" fill="#0000ff"/>
<circle cx="108.4" cy="20.6" r="1.25" fill="#0000ff"/>
<circle cx="116.9" cy="17" r="1.25" fill="#0000ff"/>
<circle cx="121.5" cy="16.5" r="1.25" fill="#0000ff"/>
</g>
<clipPath id="c2"><rect x="52.6" y="13.2" width="72.4" height="60"/></clipPath><g clip-path="url(#c2)">
<polyline points="64.5,63.5 73.8,52.7 82.3,42.3 89.9,33.1 96.8,27.3 102.6,22.7 108.4,21.1 116.9,16.9 121.5,16.5" fill="none" stroke="#ff3b3b" stroke-width="0.5"/>
<circle cx="64.5" cy="63.5" r="1.25" fill="#ff0000"/>
<circle cx="73.8" cy="52.7" r="1.25" fill="#ff0000"/>
<circle cx="82.3" cy="42.3" r="1.25" fill="#ff0000"/>
<circle cx="89.9" cy="33.1" r="1.25" fill="#ff0000"/>
<circle cx="96.8" cy="27.3" r="1.25" fill="#ff0000"/>
<circle cx="102.6" cy="22.7" r="1.25" fill="#ff0000"/>
<circle cx="108.4" cy="21.1" r="1.25" fill="#ff0000"/>
<circle cx="116.9" cy="16.9" r="1.25" fill="#ff0000"/>
<circle cx="121.5" cy="16.5" r="1.25" fill="#ff0000"/>
</g>
<clipPath id="c3"><rect x="216.1" y="14.5" width="72.9" height="60"/></clipPath><g clip-path="url(#c3)">
<polyline points="231.9,55.2 241,47.3 249,30.1 256.4,23.5 263,20.3 269.2,18.6 273.6,18.1 284.6,17.4" fill="none" stroke="#ff3b3b" stroke-width="0.5"/>
<path d="M231.9,53.9L233.2,55.2L231.9,56.5L230.6,55.2Z" fill="#ff0000"/>
<path d="M241,46L242.3,47.3L241,48.6L239.7,47.3Z" fill="#ff0000"/>
<path d="M249,28.8L250.3,30.1L249,31.4L247.7,30.1Z" fill="#ff0000"/>
<path d="M256.4,22.2L257.7,23.5L256.4,24.8L255.1,23.5Z" fill="#ff0000"/>
<path d="M263,19L264.3,20.3L263,21.6L261.7,20.3Z" fill="#ff0000"/>
<path d="M269.2,17.3L270.5,18.6L269.2,19.9L267.9,18.6Z" fill="#ff0000"/>
<path d="M273.6,16.8L274.9,18.1L273.6,19.4L272.3,18.1Z" fill="#ff0000"/>
<path d="M284.6,16.1L285.9,17.4L284.6,18.7L283.3,17.4Z" fill="#ff0000"/>
</g>
<clipPath id="c4"><rect x="216.1" y="14.5" width="72.9" height="60"/></clipPath><g clip-path="url(#c4)">
<polyline points="231.9,54.1 241,44.8 249,31.6 256.4,24.2 263,21 269.2,18.6 273.6,18.1 284.6,17.4" fill="none" stroke="#3b3bff" stroke-width="0.5"/>
<path d="M231.9,52.8L233.2,54.1L231.9,55.4L230.6,54.1Z" fill="#0000ff"/>
<path d="M241,43.5L242.3,44.8L241,46.1L239.7,44.8Z" fill="#0000ff"/>
<path d="M249,30.3L250.3,31.6L249,32.9L247.7,31.6Z" fill="#0000ff"/>
<path d="M256.4,22.9L257.7,24.2L256.4,25.5L255.1,24.2Z" fill="#0000ff"/>
<path d="M263,19.7L264.3,21L263,22.3L261.7,21Z" fill="#0000ff"/>
<path d="M269.2,17.3L270.5,18.6L269.2,19.9L267.9,18.6Z" fill="#0000ff"/>
<path d="M273.6,16.8L274.9,18.1L273.6,19.4L272.3,18.1Z" fill="#0000ff"/>
<path d="M284.6,16.1L285.9,17.4L284.6,18.7L283.3,17.4Z" fill="#0000ff"/>
</g>
<clipPath id="c5"><rect x="385.7" y="14.4" width="72.8" height="59.3"/></clipPath><g clip-path="url(#c5)">
<polyline points="399.3,55.9 408.6,45.6 417.2,34 425.1,26.7 431.2,21 437.3,19.3 443,19.3 453.8,17.4" fill="none" stroke="#ff3b3b" stroke-width="0.5"/>
<rect x="398.3" y="54.9" width="2" height="2" fill="#ff0000"/>
<rect x="407.6" y="44.6" width="2" height="2" fill="#ff0000"/>
<rect x="416.2" y="33" width="2" height="2" fill="#ff0000"/>
<rect x="424.1" y="25.7" width="2" height="2" fill="#ff0000"/>
<rect x="430.2" y="20" width="2" height="2" fill="#ff0000"/>
<rect x="436.3" y="18.3" width="2" height="2" fill="#ff0000"/>
<rect x="442" y="18.3" width="2" height="2" fill="#ff0000"/>
<rect x="452.8" y="16.4" width="2" height="2" fill="#ff0000"/>
</g>
<clipPath id="c6"><rect x="385.7" y="14.4" width="72.8" height="59.3"/></clipPath><g clip-path="url(#c6)">
<polyline points="399.3,60.3 408.6,49.7 417.2,41.4 425.1,37.7 431.2,27.2 437.3,21 443,21.8 453.8,17.4" fill="none" stroke="#3b3bff" stroke-width="0.5"/>
<line x1="425.1" y1="32" x2="425.1" y2="44.3" stroke="#3b3bff" stroke-width="0.5" />
<line x1="423.9" y1="32" x2="426.3" y2="32" stroke="#3b3bff" stroke-width="0.5" />
<line x1="423.9" y1="44.3" x2="426.3" y2="44.3" stroke="#3b3bff" stroke-width="0.5" />
<rect x="398.3" y="59.3" width="2" height="2" fill="#0000ff"/>
<rect x="407.6" y="48.7" width="2" height="2" fill="#0000ff"/>
<rect x="416.2" y="40.4" width="2" height="2" fill="#0000ff"/>
<rect x="424.1" y="36.7" width="2" height="2" fill="#0000ff"/>
<rect x="430.2" y="26.2" width="2" height="2" fill="#0000ff"/>
<rect x="436.3" y="20" width="2" height="2" fill="#0000ff"/>
<rect x="442" y="20.8" width="2" height="2" fill="#0000ff"/>
<rect x="452.8" y="16.4" width="2" height="2" fill="#0000ff"/>
</g>
<clipPath id="c7"><rect x="34.4" y="7.9" width="156.2" height="131.7"/></clipPath><g clip-path="url(#c7)">
<polyline points="37.9,137.7 55.8,137.1 66.1,129.8 77.9,128.1 90.9,119 105.5,97.8 122.2,81 140.7,58.1 161.5,39.8 184.7,18.3" fill="none" stroke="#3b3bff" stroke-width="0.65"/>
<line x1="77.9" y1="125.7" x2="77.9" y2="131.2" stroke="#3b3bff" stroke-width="0.5" />
<line x1="76.7" y1="125.7" x2="79.1" y2="125.7" stroke="#3b3bff" stroke-width="0.5" />
<line x1="76.7" y1="131.2" x2="79.1" y2="131.2" stroke="#3b3bff" stroke-width="0.5" />
<circle cx="37.9" cy="137.7" r="2.3" fill="#0000ff"/>
<circle cx="55.8" cy="137.1" r="2.3" fill="#0000ff"/>
<circle cx="66.1" cy="129.8" r="2.3" fill="#0000ff"/>
<circle cx="77.9" cy="128.1" r="2.3" fill="#0000ff"/>
<circle cx="90.9" cy="119" r="2.3" fill="#0000ff"/>
<circle cx="105.5" cy="97.8" r="2.3" fill="#0000ff"/>
<circle cx="122.2" cy="81" r="2.3" fill="#0000ff"/>
<circle cx="140.7" cy="58.1" r="2.3" fill="#0000ff"/>
<circle cx="161.5" cy="39.8" r="2.3" fill="#0000ff"/>
<circle cx="184.7" cy="18.3" r="2.3" fill="#0000ff"/>
<polyline points="37.9,139.2 55.8,137.7 66.1,126.8 77.9,135.2 90.9,128.9 105.5,104.7 122.2,82.7 140.7,55.8 161.5,36.9 184.7,15.5" fill="none" stroke="#ff3b3b" stroke-width="0.65"/>
<line x1="66.1" y1="116.3" x2="66.1" y2="139.4" stroke="#ff3b3b" stroke-width="0.5" />
<line x1="64.9" y1="116.3" x2="67.3" y2="116.3" stroke="#ff3b3b" stroke-width="0.5" />
<line x1="64.9" y1="139.4" x2="67.3" y2="139.4" stroke="#ff3b3b" stroke-width="0.5" />
<line x1="161.5" y1="30.4" x2="161.5" y2="43" stroke="#ff3b3b" stroke-width="0.5" />
<line x1="160.3" y1="30.4" x2="162.7" y2="30.4" stroke="#ff3b3b" stroke-width="0.5" />
<line x1="160.3" y1="43" x2="162.7" y2="43" stroke="#ff3b3b" stroke-width="0.5" />
<line x1="184.7" y1="14" x2="184.7" y2="21.2" stroke="#ff3b3b" stroke-width="0.5" />
<line x1="183.5" y1="14" x2="185.9" y2="14" stroke="#ff3b3b" stroke-width="0.5" />
<line x1="183.5" y1="21.2" x2="185.9" y2="21.2" stroke="#ff3b3b" stroke-width="0.5" />
<circle cx="37.9" cy="139.2" r="2.3" fill="#ff0000"/>
<circle cx="55.8" cy="137.7" r="2.3" fill="#ff0000"/>
<circle cx="66.1" cy="126.8" r="2.3" fill="#ff0000"/>
<circle cx="77.9" cy="135.2" r="2.3" fill="#ff0000"/>
<circle cx="90.9" cy="128.9" r="2.3" fill="#ff0000"/>
<circle cx="105.5" cy="104.7" r="2.3" fill="#ff0000"/>
<circle cx="122.2" cy="82.7" r="2.3" fill="#ff0000"/>
<circle cx="140.7" cy="55.8" r="2.3" fill="#ff0000"/>
<circle cx="161.5" cy="36.9" r="2.3" fill="#ff0000"/>
<circle cx="184.7" cy="15.5" r="2.3" fill="#ff0000"/>
</g>
<clipPath id="c8"><rect x="197.3" y="7.9" width="157.5" height="131.7"/></clipPath><g clip-path="url(#c8)">
<polyline points="202.5,139.6 227.8,131.5 239,131 252.1,119 266.4,104.8 283.3,87.7 301.1,66.9 321.9,45.4" fill="none" stroke="#3b3bff" stroke-width="0.65"/>
<path d="M202.5,136.6L205.5,139.6L202.5,142.6L199.5,139.6Z" fill="#0000ff"/>
<path d="M227.8,128.5L230.8,131.5L227.8,134.5L224.8,131.5Z" fill="#0000ff"/>
<path d="M239,128L242,131L239,134L236,131Z" fill="#0000ff"/>
<path d="M252.1,116L255.1,119L252.1,122L249.1,119Z" fill="#0000ff"/>
<path d="M266.4,101.8L269.4,104.8L266.4,107.8L263.4,104.8Z" fill="#0000ff"/>
<path d="M283.3,84.7L286.3,87.7L283.3,90.7L280.3,87.7Z" fill="#0000ff"/>
<path d="M301.1,63.9L304.1,66.9L301.1,69.9L298.1,66.9Z" fill="#0000ff"/>
<path d="M321.9,42.4L324.9,45.4L321.9,48.4L318.9,45.4Z" fill="#0000ff"/>
<polyline points="202.5,139.6 227.8,137.1 239,135.6 252.1,129.3 266.4,119.5 283.3,100.4 301.1,77.9 321.9,59.1" fill="none" stroke="#ff3b3b" stroke-width="0.65"/>
<path d="M202.5,136.6L205.5,139.6L202.5,142.6L199.5,139.6Z" fill="#ff0000"/>
<path d="M227.8,134.1L230.8,137.1L227.8,140.1L224.8,137.1Z" fill="#ff0000"/>
<path d="M239,132.6L242,135.6L239,138.6L236,135.6Z" fill="#ff0000"/>
<path d="M252.1,126.3L255.1,129.3L252.1,132.3L249.1,129.3Z" fill="#ff0000"/>
<path d="M266.4,116.5L269.4,119.5L266.4,122.5L263.4,119.5Z" fill="#ff0000"/>
<path d="M283.3,97.4L286.3,100.4L283.3,103.4L280.3,100.4Z" fill="#ff0000"/>
<path d="M301.1,74.9L304.1,77.9L301.1,80.9L298.1,77.9Z" fill="#ff0000"/>
<path d="M321.9,56.1L324.9,59.1L321.9,62.1L318.9,59.1Z" fill="#ff0000"/>
</g>
<clipPath id="c9"><rect x="362.4" y="7.9" width="157.5" height="131.7"/></clipPath><g clip-path="url(#c9)">
<polyline points="355,136.5 369.1,135.9 385,134.4 403.2,130.4 423.3,114.9 445.9,105.7 471.3,77.2 499.8,64.2" fill="none" stroke="#ff3b3b" stroke-width="0.65"/>
<line x1="445.9" y1="100.5" x2="445.9" y2="110.9" stroke="#ff3b3b" stroke-width="0.5" />
<line x1="444.7" y1="100.5" x2="447.1" y2="100.5" stroke="#ff3b3b" stroke-width="0.5" />
<line x1="444.7" y1="110.9" x2="447.1" y2="110.9" stroke="#ff3b3b" stroke-width="0.5" />
<line x1="499.8" y1="59.8" x2="499.8" y2="68.1" stroke="#ff3b3b" stroke-width="0.5" />
<line x1="498.6" y1="59.8" x2="501" y2="59.8" stroke="#ff3b3b" stroke-width="0.5" />
<line x1="498.6" y1="68.1" x2="501" y2="68.1" stroke="#ff3b3b" stroke-width="0.5" />
<rect x="352.7" y="134.2" width="4.6" height="4.6" fill="#ff0000"/>
<rect x="366.8" y="133.6" width="4.6" height="4.6" fill="#ff0000"/>
<rect x="382.7" y="132.1" width="4.6" height="4.6" fill="#ff0000"/>
<rect x="400.9" y="128.1" width="4.6" height="4.6" fill="#ff0000"/>
<rect x="421" y="112.6" width="4.6" height="4.6" fill="#ff0000"/>
<rect x="443.6" y="103.4" width="4.6" height="4.6" fill="#ff0000"/>
<rect x="469" y="74.9" width="4.6" height="4.6" fill="#ff0000"/>
<rect x="497.5" y="61.9" width="4.6" height="4.6" fill="#ff0000"/>
<polyline points="355,137.6 369.1,137.2 385,137.2 403.2,136.4 423.3,128.9 445.9,123.3 471.3,90.7 499.8,69.4" fill="none" stroke="#3b3bff" stroke-width="0.65"/>
<line x1="423.3" y1="124.5" x2="423.3" y2="133.6" stroke="#3b3bff" stroke-width="0.5" />
<line x1="422.1" y1="124.5" x2="424.5" y2="124.5" stroke="#3b3bff" stroke-width="0.5" />
<line x1="422.1" y1="133.6" x2="424.5" y2="133.6" stroke="#3b3bff" stroke-width="0.5" />
<line x1="445.9" y1="119.5" x2="445.9" y2="127" stroke="#3b3bff" stroke-width="0.5" />
<line x1="444.7" y1="119.5" x2="447.1" y2="119.5" stroke="#3b3bff" stroke-width="0.5" />
<line x1="444.7" y1="127" x2="447.1" y2="127" stroke="#3b3bff" stroke-width="0.5" />
<rect x="352.7" y="135.3" width="4.6" height="4.6" fill="#0000ff"/>
<rect x="366.8" y="134.9" width="4.6" height="4.6" fill="#0000ff"/>
<rect x="382.7" y="134.9" width="4.6" height="4.6" fill="#0000ff"/>
<rect x="400.9" y="134.1" width="4.6" height="4.6" fill="#0000ff"/>
<rect x="421" y="126.6" width="4.6" height="4.6" fill="#0000ff"/>
<rect x="443.6" y="121" width="4.6" height="4.6" fill="#0000ff"/>
<rect x="469" y="88.4" width="4.6" height="4.6" fill="#0000ff"/>
<rect x="497.5" y="67.1" width="4.6" height="4.6" fill="#0000ff"/>
</g>
<clipPath id="c10"><rect x="527.6" y="7.9" width="156.2" height="131.7"/></clipPath><g clip-path="url(#c10)">
<polyline points="548.5,136.6 558.9,131.2 571,127.5 583.6,122.2 599,113.3 615.6,103.4 634.4,95.4" fill="none" stroke="#ff3b3b" stroke-width="0.65"/>
<line x1="599" y1="109.5" x2="599" y2="120" stroke="#ff3b3b" stroke-width="0.5" />
<line x1="597.8" y1="109.5" x2="600.2" y2="109.5" stroke="#ff3b3b" stroke-width="0.5" />
<line x1="597.8" y1="120" x2="600.2" y2="120" stroke="#ff3b3b" stroke-width="0.5" />
<line x1="615.6" y1="99.5" x2="615.6" y2="106.6" stroke="#ff3b3b" stroke-width="0.5" />
<line x1="614.4" y1="99.5" x2="616.8" y2="99.5" stroke="#ff3b3b" stroke-width="0.5" />
<line x1="614.4" y1="106.6" x2="616.8" y2="106.6" stroke="#ff3b3b" stroke-width="0.5" />
<line x1="634.4" y1="90.6" x2="634.4" y2="100.2" stroke="#ff3b3b" stroke-width="0.5" />
<line x1="633.2" y1="90.6" x2="635.6" y2="90.6" stroke="#ff3b3b" stroke-width="0.5" />
<line x1="633.2" y1="100.2" x2="635.6" y2="100.2" stroke="#ff3b3b" stroke-width="0.5" />
<polyline points="548.5,136.3 558.9,130 571,121.5 583.6,114.3 599,107.7 615.6,90.4 634.4,70.1" fill="none" stroke="#3b3bff" stroke-width="0.65"/>
<line x1="634.4" y1="60.2" x2="634.4" y2="79.2" stroke="#3b3bff" stroke-width="0.5" />
<line x1="633.2" y1="60.2" x2="635.6" y2="60.2" stroke="#3b3bff" stroke-width="0.5" />
<line x1="633.2" y1="79.2" x2="635.6" y2="79.2" stroke="#3b3bff" stroke-width="0.5" />
<polyline points="542.8,134.8 552.5,132.8 563.6,134.1 575.9,129.2 589.9,126.7 605.3,99.7 622.6,88.2 642.6,79.6" fill="none" stroke="#ff3b3b" stroke-width="0.65"/>
<line x1="575.9" y1="126" x2="575.9" y2="135" stroke="#ff3b3b" stroke-width="0.5" />
<line x1="574.7" y1="126" x2="577.1" y2="126" stroke="#ff3b3b" stroke-width="0.5" />
<line x1="574.7" y1="135" x2="577.1" y2="135" stroke="#ff3b3b" stroke-width="0.5" />
<line x1="589.9" y1="120" x2="589.9" y2="135" stroke="#ff3b3b" stroke-width="0.5" />
<line x1="588.7" y1="120" x2="591.1" y2="120" stroke="#ff3b3b" stroke-width="0.5" />
<line x1="588.7" y1="135" x2="591.1" y2="135" stroke="#ff3b3b" stroke-width="0.5" />
<polyline points="542.8,136.8 552.5,130.3 563.6,130.8 575.9,123.6 589.8,110 605.3,87.4 622.6,72.3 642.6,62.5" fill="none" stroke="#3b3bff" stroke-width="0.65"/>
<line x1="552.5" y1="126.4" x2="552.5" y2="131" stroke="#3b3bff" stroke-width="0.5" />
<line x1="551.3" y1="126.4" x2="553.7" y2="126.4" stroke="#3b3bff" stroke-width="0.5" />
<line x1="551.3" y1="131" x2="553.7" y2="131" stroke="#3b3bff" stroke-width="0.5" />
<line x1="605.3" y1="73.3" x2="605.3" y2="100.8" stroke="#3b3bff" stroke-width="0.5" />
<line x1="604.1" y1="73.3" x2="606.5" y2="73.3" stroke="#3b3bff" stroke-width="0.5" />
<line x1="604.1" y1="100.8" x2="606.5" y2="100.8" stroke="#3b3bff" stroke-width="0.5" />
<line x1="622.6" y1="66.2" x2="622.6" y2="78.1" stroke="#3b3bff" stroke-width="0.5" />
<line x1="621.4" y1="66.2" x2="623.8" y2="66.2" stroke="#3b3bff" stroke-width="0.5" />
<line x1="621.4" y1="78.1" x2="623.8" y2="78.1" stroke="#3b3bff" stroke-width="0.5" />
<path d="M548.5,134L551.1,136.6L548.5,139.2L545.9,136.6Z" fill="#fff" stroke="#ff0000" stroke-width="0.6"/>
<path d="M558.9,128.6L561.5,131.2L558.9,133.8L556.3,131.2Z" fill="#fff" stroke="#ff0000" stroke-width="0.6"/>
<path d="M571,124.9L573.6,127.5L571,130.1L568.4,127.5Z" fill="#fff" stroke="#ff0000" stroke-width="0.6"/>
<path d="M583.6,119.6L586.2,122.2L583.6,124.8L581,122.2Z" fill="#fff" stroke="#ff0000" stroke-width="0.6"/>
<path d="M599,110.7L601.6,113.3L599,115.9L596.4,113.3Z" fill="#fff" stroke="#ff0000" stroke-width="0.6"/>
<path d="M615.6,100.8L618.2,103.4L615.6,106L613,103.4Z" fill="#fff" stroke="#ff0000" stroke-width="0.6"/>
<path d="M634.4,92.8L637,95.4L634.4,98L631.8,95.4Z" fill="#fff" stroke="#ff0000" stroke-width="0.6"/>
<path d="M548.5,133.7L551.1,136.3L548.5,138.9L545.9,136.3Z" fill="#fff" stroke="#0000ff" stroke-width="0.6"/>
<path d="M558.9,127.4L561.5,130L558.9,132.6L556.3,130Z" fill="#fff" stroke="#0000ff" stroke-width="0.6"/>
<path d="M571,118.9L573.6,121.5L571,124.1L568.4,121.5Z" fill="#fff" stroke="#0000ff" stroke-width="0.6"/>
<path d="M583.6,111.7L586.2,114.3L583.6,116.9L581,114.3Z" fill="#fff" stroke="#0000ff" stroke-width="0.6"/>
<path d="M599,105.1L601.6,107.7L599,110.3L596.4,107.7Z" fill="#fff" stroke="#0000ff" stroke-width="0.6"/>
<path d="M615.6,87.8L618.2,90.4L615.6,93L613,90.4Z" fill="#fff" stroke="#0000ff" stroke-width="0.6"/>
<path d="M634.4,67.5L637,70.1L634.4,72.7L631.8,70.1Z" fill="#fff" stroke="#0000ff" stroke-width="0.6"/>
<path d="M542.8,132.2L545.4,134.8L542.8,137.4L540.2,134.8Z" fill="#ff0000"/>
<path d="M552.5,130.2L555.1,132.8L552.5,135.4L549.9,132.8Z" fill="#ff0000"/>
<path d="M563.6,131.5L566.2,134.1L563.6,136.7L561,134.1Z" fill="#ff0000"/>
<path d="M575.9,126.6L578.5,129.2L575.9,131.8L573.3,129.2Z" fill="#ff0000"/>
<path d="M589.9,124.1L592.5,126.7L589.9,129.3L587.3,126.7Z" fill="#ff0000"/>
<path d="M605.3,97.1L607.9,99.7L605.3,102.3L602.7,99.7Z" fill="#ff0000"/>
<path d="M622.6,85.6L625.2,88.2L622.6,90.8L620,88.2Z" fill="#ff0000"/>
<path d="M642.6,77L645.2,79.6L642.6,82.2L640,79.6Z" fill="#ff0000"/>
<path d="M542.8,134.2L545.4,136.8L542.8,139.4L540.2,136.8Z" fill="#0000ff"/>
<path d="M552.5,127.7L555.1,130.3L552.5,132.9L549.9,130.3Z" fill="#0000ff"/>
<path d="M563.6,128.2L566.2,130.8L563.6,133.4L561,130.8Z" fill="#0000ff"/>
<path d="M575.9,121L578.5,123.6L575.9,126.2L573.3,123.6Z" fill="#0000ff"/>
<path d="M589.8,107.4L592.4,110L589.8,112.6L587.2,110Z" fill="#0000ff"/>
<path d="M605.3,84.8L607.9,87.4L605.3,90L602.7,87.4Z" fill="#0000ff"/>
<path d="M622.6,69.7L625.2,72.3L622.6,74.9L620,72.3Z" fill="#0000ff"/>
<path d="M642.6,59.9L645.2,62.5L642.6,65.1L640,62.5Z" fill="#0000ff"/>
</g>
<clipPath id="c11"><rect x="34.4" y="188.7" width="154.4" height="129.6"/></clipPath><g clip-path="url(#c11)">
<polyline points="36,318.3 41.45,318.3 46.91,318.3 52.37,318.3 57.82,318.3 63.27,318.3 68.73,318.3 74.19,318.3 79.64,318.3 85.09,308.7 90.55,292.2 96,282.4 101.46,275.9 106.92,270.7 112.37,266.3 117.83,262.9 123.28,259.8 128.74,256.7 134.19,254.1 139.64,252.3 145.1,250 150.56,248.1 156.01,246.6 161.47,245 166.92,243.5 172.38,242.2 177.83,241.1 183.28,240.4 188.74,239.3" fill="none" stroke="#8a5cff" stroke-width="0.65"/>
<circle cx="36" cy="318.3" r="2.3" fill="#0000ff"/>
<circle cx="41.45" cy="318.3" r="2.3" fill="#0000ff"/>
<circle cx="46.91" cy="318.3" r="2.3" fill="#0000ff"/>
<circle cx="52.37" cy="318.3" r="2.3" fill="#0000ff"/>
<circle cx="57.82" cy="318.3" r="2.3" fill="#0000ff"/>
<circle cx="63.27" cy="318.3" r="2.3" fill="#0000ff"/>
<circle cx="68.73" cy="318.3" r="2.3" fill="#0000ff"/>
<circle cx="74.19" cy="318.3" r="2.3" fill="#0000ff"/>
<circle cx="79.64" cy="318.3" r="2.3" fill="#0000ff"/>
<circle cx="85.09" cy="308.7" r="2.3" fill="#0000ff"/>
<circle cx="90.55" cy="292.2" r="2.3" fill="#0000ff"/>
<circle cx="96" cy="282.4" r="2.3" fill="#0000ff"/>
<circle cx="101.46" cy="275.9" r="2.3" fill="#0000ff"/>
<circle cx="106.92" cy="270.7" r="2.3" fill="#0000ff"/>
<circle cx="112.37" cy="266.3" r="2.3" fill="#0000ff"/>
<circle cx="117.83" cy="262.9" r="2.3" fill="#0000ff"/>
<circle cx="123.28" cy="259.8" r="2.3" fill="#0000ff"/>
<circle cx="128.74" cy="256.7" r="2.3" fill="#0000ff"/>
<circle cx="134.19" cy="254.1" r="2.3" fill="#0000ff"/>
<circle cx="139.64" cy="252.3" r="2.3" fill="#0000ff"/>
<circle cx="145.1" cy="250" r="2.3" fill="#0000ff"/>
<circle cx="150.56" cy="248.1" r="2.3" fill="#0000ff"/>
<circle cx="156.01" cy="246.6" r="2.3" fill="#0000ff"/>
<circle cx="161.47" cy="245" r="2.3" fill="#0000ff"/>
<circle cx="166.92" cy="243.5" r="2.3" fill="#0000ff"/>
<circle cx="172.38" cy="242.2" r="2.3" fill="#0000ff"/>
<circle cx="177.83" cy="241.1" r="2.3" fill="#0000ff"/>
<circle cx="183.28" cy="240.4" r="2.3" fill="#0000ff"/>
<circle cx="188.74" cy="239.3" r="2.3" fill="#0000ff"/>
</g>
<clipPath id="c12"><rect x="55.3" y="193.3" width="68.2" height="56"/></clipPath><g clip-path="url(#c12)">
<polyline points="121.15,196.3 118.81,196.3 116.47,196.3 114.13,196.3 111.8,196.3 109.46,196.3 107.12,196.3 104.78,196.3 102.44,196.3 100.11,200.38 97.77,207.4 95.43,211.57 93.09,214.34 90.75,216.55 88.42,218.42 86.08,219.87 83.74,221.18 81.4,222.5 79.06,223.61 76.73,224.37 74.39,225.35 72.05,226.16 69.71,226.8 67.37,227.48 65.03,228.12 62.7,228.67 60.36,229.14 58.02,229.44 55.68,229.9" fill="none" stroke="#8a5cff" stroke-width="0.5"/>
<circle cx="121.15" cy="196.3" r="0.95" fill="#0000ff"/>
<circle cx="118.81" cy="196.3" r="0.95" fill="#0000ff"/>
<circle cx="116.47" cy="196.3" r="0.95" fill="#0000ff"/>
<circle cx="114.13" cy="196.3" r="0.95" fill="#0000ff"/>
<circle cx="111.8" cy="196.3" r="0.95" fill="#0000ff"/>
<circle cx="109.46" cy="196.3" r="0.95" fill="#0000ff"/>
<circle cx="107.12" cy="196.3" r="0.95" fill="#0000ff"/>
<circle cx="104.78" cy="196.3" r="0.95" fill="#0000ff"/>
<circle cx="102.44" cy="196.3" r="0.95" fill="#0000ff"/>
<circle cx="100.11" cy="200.38" r="0.95" fill="#0000ff"/>
<circle cx="97.77" cy="207.4" r="0.95" fill="#0000ff"/>
<circle cx="95.43" cy="211.57" r="0.95" fill="#0000ff"/>
<circle cx="93.09" cy="214.34" r="0.95" fill="#0000ff"/>
<circle cx="90.75" cy="216.55" r="0.95" fill="#0000ff"/>
<circle cx="88.42" cy="218.42" r="0.95" fill="#0000ff"/>
<circle cx="86.08" cy="219.87" r="0.95" fill="#0000ff"/>
<circle cx="83.74" cy="221.18" r="0.95" fill="#0000ff"/>
<circle cx="81.4" cy="222.5" r="0.95" fill="#0000ff"/>
<circle cx="79.06" cy="223.61" r="0.95" fill="#0000ff"/>
<circle cx="76.73" cy="224.37" r="0.95" fill="#0000ff"/>
<circle cx="74.39" cy="225.35" r="0.95" fill="#0000ff"/>
<circle cx="72.05" cy="226.16" r="0.95" fill="#0000ff"/>
<circle cx="69.71" cy="226.8" r="0.95" fill="#0000ff"/>
<circle cx="67.37" cy="227.48" r="0.95" fill="#0000ff"/>
<circle cx="65.03" cy="228.12" r="0.95" fill="#0000ff"/>
<circle cx="62.7" cy="228.67" r="0.95" fill="#0000ff"/>
<circle cx="60.36" cy="229.14" r="0.95" fill="#0000ff"/>
<circle cx="58.02" cy="229.44" r="0.95" fill="#0000ff"/>
<circle cx="55.68" cy="229.9" r="0.95" fill="#0000ff"/>
</g>
<clipPath id="c13"><rect x="196.7" y="188.7" width="155.6" height="129.6"/></clipPath><g clip-path="url(#c13)">
<polyline points="231.63,318.3 237.09,318.3 242.54,318.3 248,318.3 253.45,318.3 258.91,306.8 264.36,291.2 269.81,281.9 275.27,275.6 280.73,270.7 286.18,266.6 291.63,263.2 297.09,260.1 302.55,257.5 308,255.4 313.46,253.3 318.91,251.5 324.37,249.7 329.82,248.2 335.27,246.3 340.73,245 346.19,243.5 351.64,241.9" fill="none" stroke="#ff3b3b" stroke-width="0.65"/>
<path d="M237.09,315.7L239.69,318.3L237.09,320.9L234.49,318.3Z" fill="#ff0000"/>
<path d="M242.54,315.7L245.14,318.3L242.54,320.9L239.94,318.3Z" fill="#ff0000"/>
<path d="M248,315.7L250.59,318.3L248,320.9L245.4,318.3Z" fill="#ff0000"/>
<path d="M253.45,315.7L256.05,318.3L253.45,320.9L250.85,318.3Z" fill="#ff0000"/>
<path d="M258.91,304.2L261.51,306.8L258.91,309.4L256.31,306.8Z" fill="#ff0000"/>
<path d="M264.36,288.6L266.96,291.2L264.36,293.8L261.76,291.2Z" fill="#ff0000"/>
<path d="M269.81,279.3L272.42,281.9L269.81,284.5L267.21,281.9Z" fill="#ff0000"/>
<path d="M275.27,273L277.87,275.6L275.27,278.2L272.67,275.6Z" fill="#ff0000"/>
<path d="M280.73,268.1L283.33,270.7L280.73,273.3L278.12,270.7Z" fill="#ff0000"/>
<path d="M286.18,264L288.78,266.6L286.18,269.2L283.58,266.6Z" fill="#ff0000"/>
<path d="M291.63,260.6L294.24,263.2L291.63,265.8L289.03,263.2Z" fill="#ff0000"/>
<path d="M297.09,257.5L299.69,260.1L297.09,262.7L294.49,260.1Z" fill="#ff0000"/>
<path d="M302.55,254.9L305.15,257.5L302.55,260.1L299.94,257.5Z" fill="#ff0000"/>
<path d="M308,252.8L310.6,255.4L308,258L305.4,255.4Z" fill="#ff0000"/>
<path d="M313.46,250.7L316.06,253.3L313.46,255.9L310.86,253.3Z" fill="#ff0000"/>
<path d="M318.91,248.9L321.51,251.5L318.91,254.1L316.31,251.5Z" fill="#ff0000"/>
<path d="M324.37,247.1L326.97,249.7L324.37,252.3L321.76,249.7Z" fill="#ff0000"/>
<path d="M329.82,245.6L332.42,248.2L329.82,250.8L327.22,248.2Z" fill="#ff0000"/>
<path d="M335.27,243.7L337.88,246.3L335.27,248.9L332.67,246.3Z" fill="#ff0000"/>
<path d="M340.73,242.4L343.33,245L340.73,247.6L338.13,245Z" fill="#ff0000"/>
<path d="M346.19,240.9L348.79,243.5L346.19,246.1L343.58,243.5Z" fill="#ff0000"/>
<path d="M351.64,239.3L354.24,241.9L351.64,244.5L349.04,241.9Z" fill="#ff0000"/>
<polyline points="198.9,318.3 204.36,318.3 209.81,318.3 215.27,318.3 220.72,318.3 226.18,318.3 231.63,318.3 237.09,312.5 242.54,296.4 248,286 253.45,279.3 258.91,274.1 264.36,269.4 269.81,265.5 275.27,261.9 280.73,259 286.18,256.5 291.63,254.1 297.09,252.3 302.55,250.2 308,248.4 313.46,246.9 318.91,245.3 324.37,243.7 329.82,242.4 335.27,241.4 340.73,240.1 346.19,239.1 351.64,238" fill="none" stroke="#3b3bff" stroke-width="0.65"/>
<path d="M198.9,315.7L201.5,318.3L198.9,320.9L196.3,318.3Z" fill="#0000ff"/>
<path d="M204.36,315.7L206.96,318.3L204.36,320.9L201.76,318.3Z" fill="#0000ff"/>
<path d="M209.81,315.7L212.41,318.3L209.81,320.9L207.21,318.3Z" fill="#0000ff"/>
<path d="M215.27,315.7L217.87,318.3L215.27,320.9L212.67,318.3Z" fill="#0000ff"/>
<path d="M220.72,315.7L223.32,318.3L220.72,320.9L218.12,318.3Z" fill="#0000ff"/>
<path d="M226.18,315.7L228.78,318.3L226.18,320.9L223.58,318.3Z" fill="#0000ff"/>
<path d="M231.63,315.7L234.23,318.3L231.63,320.9L229.03,318.3Z" fill="#0000ff"/>
<path d="M237.09,309.9L239.69,312.5L237.09,315.1L234.49,312.5Z" fill="#0000ff"/>
<path d="M242.54,293.8L245.14,296.4L242.54,299L239.94,296.4Z" fill="#0000ff"/>
<path d="M248,283.4L250.59,286L248,288.6L245.4,286Z" fill="#0000ff"/>
<path d="M253.45,276.7L256.05,279.3L253.45,281.9L250.85,279.3Z" fill="#0000ff"/>
<path d="M258.91,271.5L261.51,274.1L258.91,276.7L256.31,274.1Z" fill="#0000ff"/>
<path d="M264.36,266.8L266.96,269.4L264.36,272L261.76,269.4Z" fill="#0000ff"/>
<path d="M269.81,262.9L272.42,265.5L269.81,268.1L267.21,265.5Z" fill="#0000ff"/>
<path d="M275.27,259.3L277.87,261.9L275.27,264.5L272.67,261.9Z" fill="#0000ff"/>
<path d="M280.73,256.4L283.33,259L280.73,261.6L278.12,259Z" fill="#0000ff"/>
<path d="M286.18,253.9L288.78,256.5L286.18,259.1L283.58,256.5Z" fill="#0000ff"/>
<path d="M291.63,251.5L294.24,254.1L291.63,256.7L289.03,254.1Z" fill="#0000ff"/>
<path d="M297.09,249.7L299.69,252.3L297.09,254.9L294.49,252.3Z" fill="#0000ff"/>
<path d="M302.55,247.6L305.15,250.2L302.55,252.8L299.94,250.2Z" fill="#0000ff"/>
<path d="M308,245.8L310.6,248.4L308,251L305.4,248.4Z" fill="#0000ff"/>
<path d="M313.46,244.3L316.06,246.9L313.46,249.5L310.86,246.9Z" fill="#0000ff"/>
<path d="M318.91,242.7L321.51,245.3L318.91,247.9L316.31,245.3Z" fill="#0000ff"/>
<path d="M324.37,241.1L326.97,243.7L324.37,246.3L321.76,243.7Z" fill="#0000ff"/>
<path d="M329.82,239.8L332.42,242.4L329.82,245L327.22,242.4Z" fill="#0000ff"/>
<path d="M335.27,238.8L337.88,241.4L335.27,244L332.67,241.4Z" fill="#0000ff"/>
<path d="M340.73,237.5L343.33,240.1L340.73,242.7L338.13,240.1Z" fill="#0000ff"/>
<path d="M346.19,236.5L348.79,239.1L346.19,241.7L343.58,239.1Z" fill="#0000ff"/>
<path d="M351.64,235.4L354.24,238L351.64,240.6L349.04,238Z" fill="#0000ff"/>
</g>
<clipPath id="c14"><rect x="215.5" y="193.5" width="68.6" height="55.5"/></clipPath><g clip-path="url(#c14)">
<polyline points="280.82,196.5 278.5,196.5 276.17,196.5 273.85,196.5 271.52,196.5 269.19,196.5 266.87,196.5 264.54,198.94 262.22,205.73 259.89,210.11 257.56,212.93 255.24,215.12 252.91,217.1 250.58,218.75 248.26,220.26 245.93,221.49 243.61,222.54 241.28,223.55 238.95,224.31 236.63,225.19 234.3,225.95 231.98,226.58 229.65,227.26 227.32,227.93 225,228.48 222.67,228.9 220.34,229.45 218.02,229.87 215.69,230.33" fill="none" stroke="#ff3b3b" stroke-width="0.5"/>
<path d="M280.82,195.35L281.97,196.5L280.82,197.65L279.67,196.5Z" fill="#ff0000"/>
<path d="M278.5,195.35L279.65,196.5L278.5,197.65L277.35,196.5Z" fill="#ff0000"/>
<path d="M276.17,195.35L277.32,196.5L276.17,197.65L275.02,196.5Z" fill="#ff0000"/>
<path d="M273.85,195.35L275,196.5L273.85,197.65L272.7,196.5Z" fill="#ff0000"/>
<path d="M271.52,195.35L272.67,196.5L271.52,197.65L270.37,196.5Z" fill="#ff0000"/>
<path d="M269.19,195.35L270.34,196.5L269.19,197.65L268.04,196.5Z" fill="#ff0000"/>
<path d="M266.87,195.35L268.02,196.5L266.87,197.65L265.72,196.5Z" fill="#ff0000"/>
<path d="M264.54,197.79L265.69,198.94L264.54,200.09L263.39,198.94Z" fill="#ff0000"/>
<path d="M262.22,204.58L263.37,205.73L262.22,206.88L261.07,205.73Z" fill="#ff0000"/>
<path d="M259.89,208.96L261.04,210.11L259.89,211.26L258.74,210.11Z" fill="#ff0000"/>
<path d="M257.56,211.78L258.71,212.93L257.56,214.08L256.41,212.93Z" fill="#ff0000"/>
<path d="M255.24,213.97L256.39,215.12L255.24,216.27L254.09,215.12Z" fill="#ff0000"/>
<path d="M252.91,215.95L254.06,217.1L252.91,218.25L251.76,217.1Z" fill="#ff0000"/>
<path d="M250.58,217.6L251.73,218.75L250.58,219.9L249.43,218.75Z" fill="#ff0000"/>
<path d="M248.26,219.11L249.41,220.26L248.26,221.41L247.11,220.26Z" fill="#ff0000"/>
<path d="M245.93,220.34L247.08,221.49L245.93,222.64L244.78,221.49Z" fill="#ff0000"/>
<path d="M243.61,221.39L244.76,222.54L243.61,223.69L242.46,222.54Z" fill="#ff0000"/>
<path d="M241.28,222.4L242.43,223.55L241.28,224.7L240.13,223.55Z" fill="#ff0000"/>
<path d="M238.95,223.16L240.1,224.31L238.95,225.46L237.8,224.31Z" fill="#ff0000"/>
<path d="M236.63,224.04L237.78,225.19L236.63,226.34L235.48,225.19Z" fill="#ff0000"/>
<path d="M234.3,224.8L235.45,225.95L234.3,227.1L233.15,225.95Z" fill="#ff0000"/>
<path d="M231.98,225.43L233.13,226.58L231.98,227.73L230.83,226.58Z" fill="#ff0000"/>
<path d="M229.65,226.11L230.8,227.26L229.65,228.41L228.5,227.26Z" fill="#ff0000"/>
<path d="M227.32,226.78L228.47,227.93L227.32,229.08L226.17,227.93Z" fill="#ff0000"/>
<path d="M225,227.33L226.15,228.48L225,229.63L223.85,228.48Z" fill="#ff0000"/>
<path d="M222.67,227.75L223.82,228.9L222.67,230.05L221.52,228.9Z" fill="#ff0000"/>
<path d="M220.34,228.3L221.49,229.45L220.34,230.6L219.19,229.45Z" fill="#ff0000"/>
<path d="M218.02,228.72L219.17,229.87L218.02,231.02L216.87,229.87Z" fill="#ff0000"/>
<path d="M215.69,229.18L216.84,230.33L215.69,231.48L214.54,230.33Z" fill="#ff0000"/>
</g>
<clipPath id="c15"><rect x="215.5" y="193.5" width="68.6" height="55.5"/></clipPath><g clip-path="url(#c15)">
<polyline points="280.82,196.5 278.5,196.5 276.17,196.5 273.85,196.5 271.52,196.5 269.19,196.5 266.87,196.5 264.54,196.5 262.22,196.5 259.89,196.5 257.56,196.5 255.24,201.35 252.91,207.92 250.58,211.84 248.26,214.49 245.93,216.56 243.61,218.28 241.28,219.72 238.95,221.02 236.63,222.12 234.3,223 231.98,223.89 229.65,224.65 227.32,225.4 225,226.04 222.67,226.84 220.34,227.38 218.02,228.02 215.69,228.69" fill="none" stroke="#3b3bff" stroke-width="0.5"/>
<path d="M280.82,195.35L281.97,196.5L280.82,197.65L279.67,196.5Z" fill="#0000ff"/>
<path d="M278.5,195.35L279.65,196.5L278.5,197.65L277.35,196.5Z" fill="#0000ff"/>
<path d="M276.17,195.35L277.32,196.5L276.17,197.65L275.02,196.5Z" fill="#0000ff"/>
<path d="M273.85,195.35L275,196.5L273.85,197.65L272.7,196.5Z" fill="#0000ff"/>
<path d="M271.52,195.35L272.67,196.5L271.52,197.65L270.37,196.5Z" fill="#0000ff"/>
<path d="M269.19,195.35L270.34,196.5L269.19,197.65L268.04,196.5Z" fill="#0000ff"/>
<path d="M266.87,195.35L268.02,196.5L266.87,197.65L265.72,196.5Z" fill="#0000ff"/>
<path d="M264.54,195.35L265.69,196.5L264.54,197.65L263.39,196.5Z" fill="#0000ff"/>
<path d="M262.22,195.35L263.37,196.5L262.22,197.65L261.07,196.5Z" fill="#0000ff"/>
<path d="M259.89,195.35L261.04,196.5L259.89,197.65L258.74,196.5Z" fill="#0000ff"/>
<path d="M257.56,195.35L258.71,196.5L257.56,197.65L256.41,196.5Z" fill="#0000ff"/>
<path d="M255.24,200.2L256.39,201.35L255.24,202.5L254.09,201.35Z" fill="#0000ff"/>
<path d="M252.91,206.77L254.06,207.92L252.91,209.07L251.76,207.92Z" fill="#0000ff"/>
<path d="M250.58,210.69L251.73,211.84L250.58,212.99L249.43,211.84Z" fill="#0000ff"/>
<path d="M248.26,213.34L249.41,214.49L248.26,215.64L247.11,214.49Z" fill="#0000ff"/>
<path d="M245.93,215.41L247.08,216.56L245.93,217.71L244.78,216.56Z" fill="#0000ff"/>
<path d="M243.61,217.13L244.76,218.28L243.61,219.43L242.46,218.28Z" fill="#0000ff"/>
<path d="M241.28,218.57L242.43,219.72L241.28,220.87L240.13,219.72Z" fill="#0000ff"/>
<path d="M238.95,219.87L240.1,221.02L238.95,222.17L237.8,221.02Z" fill="#0000ff"/>
<path d="M236.63,220.97L237.78,222.12L236.63,223.27L235.48,222.12Z" fill="#0000ff"/>
<path d="M234.3,221.85L235.45,223L234.3,224.15L233.15,223Z" fill="#0000ff"/>
<path d="M231.98,222.74L233.13,223.89L231.98,225.04L230.83,223.89Z" fill="#0000ff"/>
<path d="M229.65,223.5L230.8,224.65L229.65,225.8L228.5,224.65Z" fill="#0000ff"/>
<path d="M227.32,224.25L228.47,225.4L227.32,226.55L226.17,225.4Z" fill="#0000ff"/>
<path d="M225,224.89L226.15,226.04L225,227.19L223.85,226.04Z" fill="#0000ff"/>
<path d="M222.67,225.69L223.82,226.84L222.67,227.99L221.52,226.84Z" fill="#0000ff"/>
<path d="M220.34,226.23L221.49,227.38L220.34,228.53L219.19,227.38Z" fill="#0000ff"/>
<path d="M218.02,226.87L219.17,228.02L218.02,229.17L216.87,228.02Z" fill="#0000ff"/>
<path d="M215.69,227.54L216.84,228.69L215.69,229.84L214.54,228.69Z" fill="#0000ff"/>
</g>
<clipPath id="c16"><rect x="362.4" y="188.7" width="155.3" height="129.6"/></clipPath><g clip-path="url(#c16)">
<polyline points="396.93,318.3 402.38,308.6 407.84,293.5 413.29,285 418.75,278.2 424.2,272.8 429.66,268.4 435.12,264.5 440.57,260.9 446.02,257.7 451.48,255.2 456.94,252.8 462.39,251 467.84,248.9 473.3,247.1 478.75,245.6 484.21,244.3 489.66,243 495.12,241.7 500.57,240.6 506.03,239.6 511.49,238.6 516.94,237.5" fill="none" stroke="#ff3b3b" stroke-width="0.65"/>
<rect x="400.44" y="306.65" width="3.9" height="3.9" fill="#ff0000"/>
<rect x="405.89" y="291.55" width="3.9" height="3.9" fill="#ff0000"/>
<rect x="411.34" y="283.05" width="3.9" height="3.9" fill="#ff0000"/>
<rect x="416.8" y="276.25" width="3.9" height="3.9" fill="#ff0000"/>
<rect x="422.25" y="270.85" width="3.9" height="3.9" fill="#ff0000"/>
<rect x="427.71" y="266.45" width="3.9" height="3.9" fill="#ff0000"/>
<rect x="433.17" y="262.55" width="3.9" height="3.9" fill="#ff0000"/>
<rect x="438.62" y="258.95" width="3.9" height="3.9" fill="#ff0000"/>
<rect x="444.07" y="255.75" width="3.9" height="3.9" fill="#ff0000"/>
<rect x="449.53" y="253.25" width="3.9" height="3.9" fill="#ff0000"/>
<rect x="454.99" y="250.85" width="3.9" height="3.9" fill="#ff0000"/>
<rect x="460.44" y="249.05" width="3.9" height="3.9" fill="#ff0000"/>
<rect x="465.89" y="246.95" width="3.9" height="3.9" fill="#ff0000"/>
<rect x="471.35" y="245.15" width="3.9" height="3.9" fill="#ff0000"/>
<rect x="476.81" y="243.65" width="3.9" height="3.9" fill="#ff0000"/>
<rect x="482.26" y="242.35" width="3.9" height="3.9" fill="#ff0000"/>
<rect x="487.71" y="241.05" width="3.9" height="3.9" fill="#ff0000"/>
<rect x="493.17" y="239.75" width="3.9" height="3.9" fill="#ff0000"/>
<rect x="498.62" y="238.65" width="3.9" height="3.9" fill="#ff0000"/>
<rect x="504.08" y="237.65" width="3.9" height="3.9" fill="#ff0000"/>
<rect x="509.54" y="236.65" width="3.9" height="3.9" fill="#ff0000"/>
<rect x="514.99" y="235.55" width="3.9" height="3.9" fill="#ff0000"/>
<polyline points="364.2,318.3 369.65,318.3 375.11,318.3 380.56,318.3 386.02,318.3 391.47,318.3 396.93,318.3 402.38,318.3 407.84,318.3 413.29,318.3 418.75,318.3 424.2,303.4 429.66,289.1 435.12,280.8 440.57,274.9 446.02,270.2 451.48,266 456.94,262.4 462.39,259.6 467.84,257 473.3,254.6 478.75,252.6 484.21,250.7 489.66,249.2 495.12,247.4 500.57,246.1 506.03,244.5 511.49,243.2 516.94,241.9" fill="none" stroke="#3b3bff" stroke-width="0.65"/>
<rect x="362.25" y="316.35" width="3.9" height="3.9" fill="#0000ff"/>
<rect x="367.7" y="316.35" width="3.9" height="3.9" fill="#0000ff"/>
<rect x="373.16" y="316.35" width="3.9" height="3.9" fill="#0000ff"/>
<rect x="378.62" y="316.35" width="3.9" height="3.9" fill="#0000ff"/>
<rect x="384.07" y="316.35" width="3.9" height="3.9" fill="#0000ff"/>
<rect x="389.52" y="316.35" width="3.9" height="3.9" fill="#0000ff"/>
<rect x="394.98" y="316.35" width="3.9" height="3.9" fill="#0000ff"/>
<rect x="400.44" y="316.35" width="3.9" height="3.9" fill="#0000ff"/>
<rect x="405.89" y="316.35" width="3.9" height="3.9" fill="#0000ff"/>
<rect x="411.34" y="316.35" width="3.9" height="3.9" fill="#0000ff"/>
<rect x="416.8" y="316.35" width="3.9" height="3.9" fill="#0000ff"/>
<rect x="422.25" y="301.45" width="3.9" height="3.9" fill="#0000ff"/>
<rect x="427.71" y="287.15" width="3.9" height="3.9" fill="#0000ff"/>
<rect x="433.17" y="278.85" width="3.9" height="3.9" fill="#0000ff"/>
<rect x="438.62" y="272.95" width="3.9" height="3.9" fill="#0000ff"/>
<rect x="444.07" y="268.25" width="3.9" height="3.9" fill="#0000ff"/>
<rect x="449.53" y="264.05" width="3.9" height="3.9" fill="#0000ff"/>
<rect x="454.99" y="260.45" width="3.9" height="3.9" fill="#0000ff"/>
<rect x="460.44" y="257.65" width="3.9" height="3.9" fill="#0000ff"/>
<rect x="465.89" y="255.05" width="3.9" height="3.9" fill="#0000ff"/>
<rect x="471.35" y="252.65" width="3.9" height="3.9" fill="#0000ff"/>
<rect x="476.81" y="250.65" width="3.9" height="3.9" fill="#0000ff"/>
<rect x="482.26" y="248.75" width="3.9" height="3.9" fill="#0000ff"/>
<rect x="487.71" y="247.25" width="3.9" height="3.9" fill="#0000ff"/>
<rect x="493.17" y="245.45" width="3.9" height="3.9" fill="#0000ff"/>
<rect x="498.62" y="244.15" width="3.9" height="3.9" fill="#0000ff"/>
<rect x="504.08" y="242.55" width="3.9" height="3.9" fill="#0000ff"/>
<rect x="509.54" y="241.25" width="3.9" height="3.9" fill="#0000ff"/>
<rect x="514.99" y="239.95" width="3.9" height="3.9" fill="#0000ff"/>
</g>
<clipPath id="c17"><rect x="380.5" y="193.5" width="68.5" height="55.6"/></clipPath><g clip-path="url(#c17)">
<polyline points="446.18,196.5 443.84,196.5 441.51,196.5 439.17,196.5 436.83,196.5 434.49,196.5 432.15,196.5 429.82,196.5 427.48,196.5 425.14,196.5 422.8,196.5 420.46,202.79 418.12,208.83 415.79,212.33 413.45,214.82 411.11,216.81 408.77,218.58 406.43,220.1 404.09,221.28 401.76,222.38 399.42,223.39 397.08,224.24 394.74,225.04 392.4,225.67 390.06,226.43 387.73,226.98 385.39,227.65 383.05,228.2 380.71,228.75" fill="none" stroke="#ff3b3b" stroke-width="0.5"/>
<rect x="445.28" y="195.6" width="1.8" height="1.8" fill="#ff0000"/>
<rect x="442.94" y="195.6" width="1.8" height="1.8" fill="#ff0000"/>
<rect x="440.61" y="195.6" width="1.8" height="1.8" fill="#ff0000"/>
<rect x="438.27" y="195.6" width="1.8" height="1.8" fill="#ff0000"/>
<rect x="435.93" y="195.6" width="1.8" height="1.8" fill="#ff0000"/>
<rect x="433.59" y="195.6" width="1.8" height="1.8" fill="#ff0000"/>
<rect x="431.25" y="195.6" width="1.8" height="1.8" fill="#ff0000"/>
<rect x="428.92" y="195.6" width="1.8" height="1.8" fill="#ff0000"/>
<rect x="426.58" y="195.6" width="1.8" height="1.8" fill="#ff0000"/>
<rect x="424.24" y="195.6" width="1.8" height="1.8" fill="#ff0000"/>
<rect x="421.9" y="195.6" width="1.8" height="1.8" fill="#ff0000"/>
<rect x="419.56" y="201.89" width="1.8" height="1.8" fill="#ff0000"/>
<rect x="417.22" y="207.93" width="1.8" height="1.8" fill="#ff0000"/>
<rect x="414.89" y="211.43" width="1.8" height="1.8" fill="#ff0000"/>
<rect x="412.55" y="213.92" width="1.8" height="1.8" fill="#ff0000"/>
<rect x="410.21" y="215.91" width="1.8" height="1.8" fill="#ff0000"/>
<rect x="407.87" y="217.68" width="1.8" height="1.8" fill="#ff0000"/>
<rect x="405.53" y="219.2" width="1.8" height="1.8" fill="#ff0000"/>
<rect x="403.19" y="220.38" width="1.8" height="1.8" fill="#ff0000"/>
<rect x="400.86" y="221.48" width="1.8" height="1.8" fill="#ff0000"/>
<rect x="398.52" y="222.49" width="1.8" height="1.8" fill="#ff0000"/>
<rect x="396.18" y="223.34" width="1.8" height="1.8" fill="#ff0000"/>
<rect x="393.84" y="224.14" width="1.8" height="1.8" fill="#ff0000"/>
<rect x="391.5" y="224.77" width="1.8" height="1.8" fill="#ff0000"/>
<rect x="389.16" y="225.53" width="1.8" height="1.8" fill="#ff0000"/>
<rect x="386.83" y="226.08" width="1.8" height="1.8" fill="#ff0000"/>
<rect x="384.49" y="226.75" width="1.8" height="1.8" fill="#ff0000"/>
<rect x="382.15" y="227.3" width="1.8" height="1.8" fill="#ff0000"/>
<rect x="379.81" y="227.85" width="1.8" height="1.8" fill="#ff0000"/>
</g>
<clipPath id="c18"><rect x="380.5" y="193.5" width="68.5" height="55.6"/></clipPath><g clip-path="url(#c18)">
<polyline points="446.18,196.5 443.84,196.5 441.51,196.5 439.17,196.5 436.83,196.5 434.49,196.5 432.15,196.5 429.82,200.59 427.48,206.97 425.14,210.56 422.8,213.43 420.46,215.71 418.12,217.57 415.79,219.21 413.45,220.73 411.11,222.08 408.77,223.14 406.43,224.15 404.09,224.91 401.76,225.8 399.42,226.56 397.08,227.19 394.74,227.74 392.4,228.29 390.06,228.84 387.73,229.3 385.39,229.72 383.05,230.15 380.71,230.61" fill="none" stroke="#3b3bff" stroke-width="0.5"/>
<rect x="445.28" y="195.6" width="1.8" height="1.8" fill="#0000ff"/>
<rect x="442.94" y="195.6" width="1.8" height="1.8" fill="#0000ff"/>
<rect x="440.61" y="195.6" width="1.8" height="1.8" fill="#0000ff"/>
<rect x="438.27" y="195.6" width="1.8" height="1.8" fill="#0000ff"/>
<rect x="435.93" y="195.6" width="1.8" height="1.8" fill="#0000ff"/>
<rect x="433.59" y="195.6" width="1.8" height="1.8" fill="#0000ff"/>
<rect x="431.25" y="195.6" width="1.8" height="1.8" fill="#0000ff"/>
<rect x="428.92" y="199.69" width="1.8" height="1.8" fill="#0000ff"/>
<rect x="426.58" y="206.07" width="1.8" height="1.8" fill="#0000ff"/>
<rect x="424.24" y="209.66" width="1.8" height="1.8" fill="#0000ff"/>
<rect x="421.9" y="212.53" width="1.8" height="1.8" fill="#0000ff"/>
<rect x="419.56" y="214.81" width="1.8" height="1.8" fill="#0000ff"/>
<rect x="417.22" y="216.67" width="1.8" height="1.8" fill="#0000ff"/>
<rect x="414.89" y="218.31" width="1.8" height="1.8" fill="#0000ff"/>
<rect x="412.55" y="219.83" width="1.8" height="1.8" fill="#0000ff"/>
<rect x="410.21" y="221.18" width="1.8" height="1.8" fill="#0000ff"/>
<rect x="407.87" y="222.24" width="1.8" height="1.8" fill="#0000ff"/>
<rect x="405.53" y="223.25" width="1.8" height="1.8" fill="#0000ff"/>
<rect x="403.19" y="224.01" width="1.8" height="1.8" fill="#0000ff"/>
<rect x="400.86" y="224.9" width="1.8" height="1.8" fill="#0000ff"/>
<rect x="398.52" y="225.66" width="1.8" height="1.8" fill="#0000ff"/>
<rect x="396.18" y="226.29" width="1.8" height="1.8" fill="#0000ff"/>
<rect x="393.84" y="226.84" width="1.8" height="1.8" fill="#0000ff"/>
<rect x="391.5" y="227.39" width="1.8" height="1.8" fill="#0000ff"/>
<rect x="389.16" y="227.94" width="1.8" height="1.8" fill="#0000ff"/>
<rect x="386.83" y="228.4" width="1.8" height="1.8" fill="#0000ff"/>
<rect x="384.49" y="228.82" width="1.8" height="1.8" fill="#0000ff"/>
<rect x="382.15" y="229.25" width="1.8" height="1.8" fill="#0000ff"/>
<rect x="379.81" y="229.71" width="1.8" height="1.8" fill="#0000ff"/>
</g>
<clipPath id="c19"><rect x="527.3" y="188.7" width="155.4" height="129.6"/></clipPath><g clip-path="url(#c19)">
<polyline points="584.05,318.3 589.5,304.3 594.96,291.2 600.41,282.9 605.87,276.6 611.33,271.7 616.78,267.6 622.24,264.2 627.69,261.1 633.14,258.5 638.6,256.4 644.06,254.3 649.51,252.5 654.97,250.7 660.42,249.2 665.88,247.3 671.33,246 676.78,244.5 682.24,242.9" fill="none" stroke="#ff3b3b" stroke-width="0.65"/>
<path d="M589.5,301.8L592,304.3L589.5,306.8L587,304.3Z" fill="#ff0000"/>
<path d="M594.96,288.7L597.46,291.2L594.96,293.7L592.46,291.2Z" fill="#ff0000"/>
<path d="M600.41,280.4L602.91,282.9L600.41,285.4L597.91,282.9Z" fill="#ff0000"/>
<path d="M605.87,274.1L608.37,276.6L605.87,279.1L603.37,276.6Z" fill="#ff0000"/>
<path d="M611.33,269.2L613.83,271.7L611.33,274.2L608.83,271.7Z" fill="#ff0000"/>
<path d="M616.78,265.1L619.28,267.6L616.78,270.1L614.28,267.6Z" fill="#ff0000"/>
<path d="M622.24,261.7L624.74,264.2L622.24,266.7L619.74,264.2Z" fill="#ff0000"/>
<path d="M627.69,258.6L630.19,261.1L627.69,263.6L625.19,261.1Z" fill="#ff0000"/>
<path d="M633.14,256L635.64,258.5L633.14,261L630.64,258.5Z" fill="#ff0000"/>
<path d="M638.6,253.9L641.1,256.4L638.6,258.9L636.1,256.4Z" fill="#ff0000"/>
<path d="M644.06,251.8L646.56,254.3L644.06,256.8L641.56,254.3Z" fill="#ff0000"/>
<path d="M649.51,250L652.01,252.5L649.51,255L647.01,252.5Z" fill="#ff0000"/>
<path d="M654.97,248.2L657.47,250.7L654.97,253.2L652.47,250.7Z" fill="#ff0000"/>
<path d="M660.42,246.7L662.92,249.2L660.42,251.7L657.92,249.2Z" fill="#ff0000"/>
<path d="M665.88,244.8L668.38,247.3L665.88,249.8L663.38,247.3Z" fill="#ff0000"/>
<path d="M671.33,243.5L673.83,246L671.33,248.5L668.83,246Z" fill="#ff0000"/>
<path d="M676.78,242L679.28,244.5L676.78,247L674.28,244.5Z" fill="#ff0000"/>
<path d="M682.24,240.4L684.74,242.9L682.24,245.4L679.74,242.9Z" fill="#ff0000"/>
<polyline points="562.23,318.3 567.68,310.3 573.14,296.4 578.6,287 584.05,280.3 589.5,275.1 594.96,270.4 600.41,266.5 605.87,262.9 611.33,260 616.78,257.5 622.24,255.1 627.69,253.3 633.14,251.2 638.6,249.4 644.06,247.9 649.51,246.3 654.97,244.7 660.42,243.4 665.88,242.4 671.33,241.1 676.78,240.1 682.24,239" fill="none" stroke="#3b3bff" stroke-width="0.65"/>
<path d="M567.68,307.8L570.18,310.3L567.68,312.8L565.18,310.3Z" fill="#0000ff"/>
<path d="M573.14,293.9L575.64,296.4L573.14,298.9L570.64,296.4Z" fill="#0000ff"/>
<path d="M578.6,284.5L581.1,287L578.6,289.5L576.1,287Z" fill="#0000ff"/>
<path d="M584.05,277.8L586.55,280.3L584.05,282.8L581.55,280.3Z" fill="#0000ff"/>
<path d="M589.5,272.6L592,275.1L589.5,277.6L587,275.1Z" fill="#0000ff"/>
<path d="M594.96,267.9L597.46,270.4L594.96,272.9L592.46,270.4Z" fill="#0000ff"/>
<path d="M600.41,264L602.91,266.5L600.41,269L597.91,266.5Z" fill="#0000ff"/>
<path d="M605.87,260.4L608.37,262.9L605.87,265.4L603.37,262.9Z" fill="#0000ff"/>
<path d="M611.33,257.5L613.83,260L611.33,262.5L608.83,260Z" fill="#0000ff"/>
<path d="M616.78,255L619.28,257.5L616.78,260L614.28,257.5Z" fill="#0000ff"/>
<path d="M622.24,252.6L624.74,255.1L622.24,257.6L619.74,255.1Z" fill="#0000ff"/>
<path d="M627.69,250.8L630.19,253.3L627.69,255.8L625.19,253.3Z" fill="#0000ff"/>
<path d="M633.14,248.7L635.64,251.2L633.14,253.7L630.64,251.2Z" fill="#0000ff"/>
<path d="M638.6,246.9L641.1,249.4L638.6,251.9L636.1,249.4Z" fill="#0000ff"/>
<path d="M644.06,245.4L646.56,247.9L644.06,250.4L641.56,247.9Z" fill="#0000ff"/>
<path d="M649.51,243.8L652.01,246.3L649.51,248.8L647.01,246.3Z" fill="#0000ff"/>
<path d="M654.97,242.2L657.47,244.7L654.97,247.2L652.47,244.7Z" fill="#0000ff"/>
<path d="M660.42,240.9L662.92,243.4L660.42,245.9L657.92,243.4Z" fill="#0000ff"/>
<path d="M665.88,239.9L668.38,242.4L665.88,244.9L663.38,242.4Z" fill="#0000ff"/>
<path d="M671.33,238.6L673.83,241.1L671.33,243.6L668.83,241.1Z" fill="#0000ff"/>
<path d="M676.78,237.6L679.28,240.1L676.78,242.6L674.28,240.1Z" fill="#0000ff"/>
<path d="M682.24,236.5L684.74,239L682.24,241.5L679.74,239Z" fill="#0000ff"/>
<polyline points="567.68,318.3 573.14,318.3 578.6,318.3 584.05,318.3 589.5,318.3 594.96,296.5 600.41,285.4 605.87,277.5 611.33,271.5 616.78,266.8 622.24,263.2 627.69,259.6 633.14,257 638.6,254.5 644.06,252.1 649.51,249.8 654.97,248.1 660.42,245.9 665.88,244.5 671.33,242.7 676.78,241.3 682.24,239.8" fill="none" stroke="#ff3b3b" stroke-width="0.65"/>
<path d="M573.14,315.8L575.64,318.3L573.14,320.8L570.64,318.3Z" fill="#fff" stroke="#ff0000" stroke-width="0.6"/>
<path d="M578.6,315.8L581.1,318.3L578.6,320.8L576.1,318.3Z" fill="#fff" stroke="#ff0000" stroke-width="0.6"/>
<path d="M584.05,315.8L586.55,318.3L584.05,320.8L581.55,318.3Z" fill="#fff" stroke="#ff0000" stroke-width="0.6"/>
<path d="M589.5,315.8L592,318.3L589.5,320.8L587,318.3Z" fill="#fff" stroke="#ff0000" stroke-width="0.6"/>
<path d="M594.96,294L597.46,296.5L594.96,299L592.46,296.5Z" fill="#fff" stroke="#ff0000" stroke-width="0.6"/>
<path d="M600.41,282.9L602.91,285.4L600.41,287.9L597.91,285.4Z" fill="#fff" stroke="#ff0000" stroke-width="0.6"/>
<path d="M605.87,275L608.37,277.5L605.87,280L603.37,277.5Z" fill="#fff" stroke="#ff0000" stroke-width="0.6"/>
<path d="M611.33,269L613.83,271.5L611.33,274L608.83,271.5Z" fill="#fff" stroke="#ff0000" stroke-width="0.6"/>
<path d="M616.78,264.3L619.28,266.8L616.78,269.3L614.28,266.8Z" fill="#fff" stroke="#ff0000" stroke-width="0.6"/>
<path d="M622.24,260.7L624.74,263.2L622.24,265.7L619.74,263.2Z" fill="#fff" stroke="#ff0000" stroke-width="0.6"/>
<path d="M627.69,257.1L630.19,259.6L627.69,262.1L625.19,259.6Z" fill="#fff" stroke="#ff0000" stroke-width="0.6"/>
<path d="M633.14,254.5L635.64,257L633.14,259.5L630.64,257Z" fill="#fff" stroke="#ff0000" stroke-width="0.6"/>
<path d="M638.6,252L641.1,254.5L638.6,257L636.1,254.5Z" fill="#fff" stroke="#ff0000" stroke-width="0.6"/>
<path d="M644.06,249.6L646.56,252.1L644.06,254.6L641.56,252.1Z" fill="#fff" stroke="#ff0000" stroke-width="0.6"/>
<path d="M649.51,247.3L652.01,249.8L649.51,252.3L647.01,249.8Z" fill="#fff" stroke="#ff0000" stroke-width="0.6"/>
<path d="M654.97,245.6L657.47,248.1L654.97,250.6L652.47,248.1Z" fill="#fff" stroke="#ff0000" stroke-width="0.6"/>
<path d="M660.42,243.4L662.92,245.9L660.42,248.4L657.92,245.9Z" fill="#fff" stroke="#ff0000" stroke-width="0.6"/>
<path d="M665.88,242L668.38,244.5L665.88,247L663.38,244.5Z" fill="#fff" stroke="#ff0000" stroke-width="0.6"/>
<path d="M671.33,240.2L673.83,242.7L671.33,245.2L668.83,242.7Z" fill="#fff" stroke="#ff0000" stroke-width="0.6"/>
<path d="M676.78,238.8L679.28,241.3L676.78,243.8L674.28,241.3Z" fill="#fff" stroke="#ff0000" stroke-width="0.6"/>
<path d="M682.24,237.3L684.74,239.8L682.24,242.3L679.74,239.8Z" fill="#fff" stroke="#ff0000" stroke-width="0.6"/>
<polyline points="529.5,318.3 534.96,318.3 540.41,318.3 545.87,318.3 551.32,318.3 556.77,318.3 562.23,318.3 567.68,318.3 573.14,301.7 578.6,289.6 584.05,280.7 589.5,274.6 594.96,269.6 600.41,265.2 605.87,261.7 611.33,258.1 616.78,254.5 622.24,251.7 627.69,249.5 633.14,247.6 638.6,245.9 644.06,244 649.51,242.3 654.97,241.1 660.42,239.7 665.88,238.4 671.33,237.2 676.78,236.1 682.24,235.1" fill="none" stroke="#3b3bff" stroke-width="0.65"/>
<path d="M529.5,315.8L532,318.3L529.5,320.8L527,318.3Z" fill="#fff" stroke="#0000ff" stroke-width="0.6"/>
<path d="M534.96,315.8L537.46,318.3L534.96,320.8L532.46,318.3Z" fill="#fff" stroke="#0000ff" stroke-width="0.6"/>
<path d="M540.41,315.8L542.91,318.3L540.41,320.8L537.91,318.3Z" fill="#fff" stroke="#0000ff" stroke-width="0.6"/>
<path d="M545.87,315.8L548.37,318.3L545.87,320.8L543.37,318.3Z" fill="#fff" stroke="#0000ff" stroke-width="0.6"/>
<path d="M551.32,315.8L553.82,318.3L551.32,320.8L548.82,318.3Z" fill="#fff" stroke="#0000ff" stroke-width="0.6"/>
<path d="M556.77,315.8L559.27,318.3L556.77,320.8L554.27,318.3Z" fill="#fff" stroke="#0000ff" stroke-width="0.6"/>
<path d="M562.23,315.8L564.73,318.3L562.23,320.8L559.73,318.3Z" fill="#fff" stroke="#0000ff" stroke-width="0.6"/>
<path d="M567.68,315.8L570.18,318.3L567.68,320.8L565.18,318.3Z" fill="#fff" stroke="#0000ff" stroke-width="0.6"/>
<path d="M573.14,299.2L575.64,301.7L573.14,304.2L570.64,301.7Z" fill="#fff" stroke="#0000ff" stroke-width="0.6"/>
<path d="M578.6,287.1L581.1,289.6L578.6,292.1L576.1,289.6Z" fill="#fff" stroke="#0000ff" stroke-width="0.6"/>
<path d="M584.05,278.2L586.55,280.7L584.05,283.2L581.55,280.7Z" fill="#fff" stroke="#0000ff" stroke-width="0.6"/>
<path d="M589.5,272.1L592,274.6L589.5,277.1L587,274.6Z" fill="#fff" stroke="#0000ff" stroke-width="0.6"/>
<path d="M594.96,267.1L597.46,269.6L594.96,272.1L592.46,269.6Z" fill="#fff" stroke="#0000ff" stroke-width="0.6"/>
<path d="M600.41,262.7L602.91,265.2L600.41,267.7L597.91,265.2Z" fill="#fff" stroke="#0000ff" stroke-width="0.6"/>
<path d="M605.87,259.2L608.37,261.7L605.87,264.2L603.37,261.7Z" fill="#fff" stroke="#0000ff" stroke-width="0.6"/>
<path d="M611.33,255.6L613.83,258.1L611.33,260.6L608.83,258.1Z" fill="#fff" stroke="#0000ff" stroke-width="0.6"/>
<path d="M616.78,252L619.28,254.5L616.78,257L614.28,254.5Z" fill="#fff" stroke="#0000ff" stroke-width="0.6"/>
<path d="M622.24,249.2L624.74,251.7L622.24,254.2L619.74,251.7Z" fill="#fff" stroke="#0000ff" stroke-width="0.6"/>
<path d="M627.69,247L630.19,249.5L627.69,252L625.19,249.5Z" fill="#fff" stroke="#0000ff" stroke-width="0.6"/>
<path d="M633.14,245.1L635.64,247.6L633.14,250.1L630.64,247.6Z" fill="#fff" stroke="#0000ff" stroke-width="0.6"/>
<path d="M638.6,243.4L641.1,245.9L638.6,248.4L636.1,245.9Z" fill="#fff" stroke="#0000ff" stroke-width="0.6"/>
<path d="M644.06,241.5L646.56,244L644.06,246.5L641.56,244Z" fill="#fff" stroke="#0000ff" stroke-width="0.6"/>
<path d="M649.51,239.8L652.01,242.3L649.51,244.8L647.01,242.3Z" fill="#fff" stroke="#0000ff" stroke-width="0.6"/>
<path d="M654.97,238.6L657.47,241.1L654.97,243.6L652.47,241.1Z" fill="#fff" stroke="#0000ff" stroke-width="0.6"/>
<path d="M660.42,237.2L662.92,239.7L660.42,242.2L657.92,239.7Z" fill="#fff" stroke="#0000ff" stroke-width="0.6"/>
<path d="M665.88,235.9L668.38,238.4L665.88,240.9L663.38,238.4Z" fill="#fff" stroke="#0000ff" stroke-width="0.6"/>
<path d="M671.33,234.7L673.83,237.2L671.33,239.7L668.83,237.2Z" fill="#fff" stroke="#0000ff" stroke-width="0.6"/>
<path d="M676.78,233.6L679.28,236.1L676.78,238.6L674.28,236.1Z" fill="#fff" stroke="#0000ff" stroke-width="0.6"/>
<path d="M682.24,232.6L684.74,235.1L682.24,237.6L679.74,235.1Z" fill="#fff" stroke="#0000ff" stroke-width="0.6"/>
</g>
</svg>
</body></html>
